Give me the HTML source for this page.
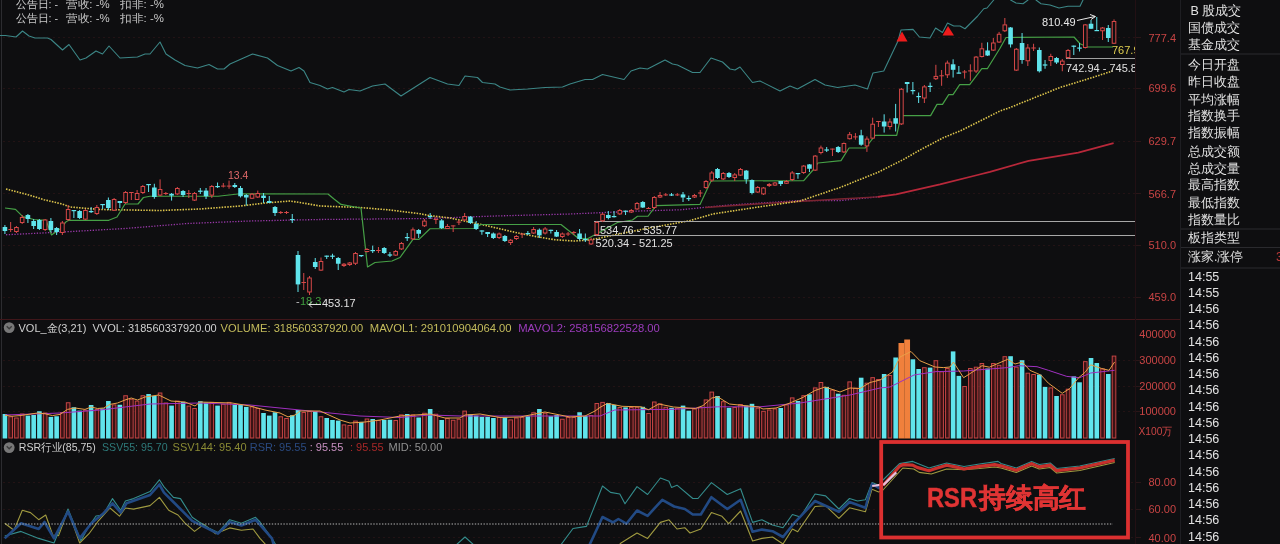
<!DOCTYPE html>
<html><head><meta charset="utf-8"><style>
html,body{margin:0;padding:0;background:#0e0e10;width:1280px;height:544px;overflow:hidden}
svg{display:block;font-family:"Liberation Sans", sans-serif;will-change:transform}
</style></head><body>
<svg width="1280" height="544" viewBox="0 0 1280 544">
<rect x="0" y="0" width="1280" height="544" fill="#0e0e10"/>
<line x1="1.5" y1="0" x2="1.5" y2="544" stroke="#2c2c30" stroke-width="1"/>
<line x1="3" y1="37.5" x2="1135" y2="37.5" stroke="#231315" stroke-width="1" stroke-dasharray="2,3"/>
<line x1="3" y1="88.5" x2="1135" y2="88.5" stroke="#231315" stroke-width="1" stroke-dasharray="2,3"/>
<line x1="3" y1="141.5" x2="1135" y2="141.5" stroke="#231315" stroke-width="1" stroke-dasharray="2,3"/>
<line x1="3" y1="193.5" x2="1135" y2="193.5" stroke="#231315" stroke-width="1" stroke-dasharray="2,3"/>
<line x1="3" y1="245.5" x2="1135" y2="245.5" stroke="#231315" stroke-width="1" stroke-dasharray="2,3"/>
<line x1="3" y1="297.5" x2="1135" y2="297.5" stroke="#231315" stroke-width="1" stroke-dasharray="2,3"/>
<line x1="3" y1="360.5" x2="1135" y2="360.5" stroke="#231315" stroke-width="1" stroke-dasharray="2,3"/>
<line x1="3" y1="386.5" x2="1135" y2="386.5" stroke="#231315" stroke-width="1" stroke-dasharray="2,3"/>
<line x1="3" y1="411.5" x2="1135" y2="411.5" stroke="#231315" stroke-width="1" stroke-dasharray="2,3"/>
<line x1="3" y1="482.5" x2="878" y2="482.5" stroke="#231315" stroke-width="1" stroke-dasharray="2,3"/>
<line x1="1131" y1="482.5" x2="1135" y2="482.5" stroke="#231315" stroke-width="1" stroke-dasharray="2,3"/>
<line x1="3" y1="509.5" x2="878" y2="509.5" stroke="#231315" stroke-width="1" stroke-dasharray="2,3"/>
<line x1="1131" y1="509.5" x2="1135" y2="509.5" stroke="#231315" stroke-width="1" stroke-dasharray="2,3"/>
<line x1="3" y1="537.5" x2="878" y2="537.5" stroke="#231315" stroke-width="1" stroke-dasharray="2,3"/>
<line x1="1131" y1="537.5" x2="1135" y2="537.5" stroke="#231315" stroke-width="1" stroke-dasharray="2,3"/>
<line x1="1136" y1="37.5" x2="1141" y2="37.5" stroke="#2a1618" stroke-width="1"/>
<line x1="1136" y1="88.5" x2="1141" y2="88.5" stroke="#2a1618" stroke-width="1"/>
<line x1="1136" y1="141.5" x2="1141" y2="141.5" stroke="#2a1618" stroke-width="1"/>
<line x1="1136" y1="193.5" x2="1141" y2="193.5" stroke="#2a1618" stroke-width="1"/>
<line x1="1136" y1="245.5" x2="1141" y2="245.5" stroke="#2a1618" stroke-width="1"/>
<line x1="1136" y1="297.5" x2="1141" y2="297.5" stroke="#2a1618" stroke-width="1"/>
<line x1="1136" y1="360.5" x2="1141" y2="360.5" stroke="#2a1618" stroke-width="1"/>
<line x1="1136" y1="386.5" x2="1141" y2="386.5" stroke="#2a1618" stroke-width="1"/>
<line x1="1136" y1="411.5" x2="1141" y2="411.5" stroke="#2a1618" stroke-width="1"/>
<line x1="1136" y1="482.5" x2="1141" y2="482.5" stroke="#2a1618" stroke-width="1"/>
<line x1="1136" y1="509.5" x2="1141" y2="509.5" stroke="#2a1618" stroke-width="1"/>
<line x1="1136" y1="537.5" x2="1141" y2="537.5" stroke="#2a1618" stroke-width="1"/>
<line x1="0" y1="319.5" x2="1180" y2="319.5" stroke="#40161a" stroke-width="1"/>
<line x1="1135.5" y1="0" x2="1135.5" y2="544" stroke="#221014" stroke-width="1"/>
<line x1="1180.5" y1="0" x2="1180.5" y2="544" stroke="#1e1e22" stroke-width="1"/>
<polyline points="0.00,35.50 5.50,35.50 16.00,37.00 22.50,31.00 29.00,36.00 35.00,38.00 47.50,38.00 51.00,39.50 62.50,50.00 69.00,44.50 80.00,60.00 86.00,58.00 96.00,51.00 102.50,54.00 109.00,46.00 120.00,58.00 137.50,57.00 145.00,54.00 150.00,54.00 160.00,42.00 166.00,54.00 175.00,60.00 185.00,65.50 197.50,68.00 209.00,64.50 217.50,69.00 224.00,69.00 230.00,64.00 252.50,54.00 267.50,58.00 277.50,65.50 291.00,71.00 299.00,67.50 304.00,71.00 310.00,82.50 320.00,85.50 327.50,89.00 332.50,87.50 344.00,92.00 349.00,89.50 360.00,91.00 372.50,86.00 385.00,84.00 401.00,96.00 430.00,77.50 447.50,84.00 459.00,85.50 465.00,76.00 477.50,77.50 482.50,82.50 495.00,84.00 500.00,87.00 510.00,90.00 527.50,89.00 545.00,87.50 562.50,87.00 570.00,84.00 585.00,79.50 592.50,79.50 602.50,74.50 624.00,79.50 631.00,71.00 640.00,68.00 647.50,69.00 665.00,60.00 672.50,64.00 677.50,65.00 692.50,72.50 700.00,72.50 711.00,58.00 722.50,62.00 730.00,69.00 735.00,70.00 740.00,67.00 752.50,82.50 760.00,81.00 780.00,91.00 790.00,86.00 797.50,89.00 815.00,79.50 825.00,85.00 837.50,87.50 855.00,85.00 867.50,89.00 873.00,73.00 883.75,71.00 898.00,41.00 901.00,30.00 913.00,29.40 919.40,37.00 930.00,38.00 935.60,28.00 942.50,32.50 947.50,23.00 953.75,26.00 960.00,26.00 965.00,28.75 977.50,16.25 983.75,8.75 987.00,8.00 993.75,0.00 998.00,-5.00" fill="none" stroke="#3c8686" stroke-width="1.1" stroke-linejoin="round" />
<polyline points="1007.00,-4.00 1010.60,0.00 1016.00,3.00 1023.00,3.75 1028.00,0.00 1031.00,-4.00" fill="none" stroke="#3c8686" stroke-width="1.1" stroke-linejoin="round" />
<polyline points="1033.00,-4.00 1036.00,0.00 1041.00,3.75 1050.00,5.00 1059.00,8.00 1068.00,6.25 1080.00,6.25 1083.00,0.00 1086.00,-4.00" fill="none" stroke="#3c8686" stroke-width="1.1" stroke-linejoin="round" />
<polygon points="902,31.5 896.5,41.5 907.5,41.5" fill="#ee1c1c"/>
<polygon points="948,26 942.5,35.5 954,35.5" fill="#ee1c1c"/>
<polyline points="6.00,234.75 62.50,232.00 125.00,228.50 187.50,223.50 250.00,221.00 320.00,219.50 427.50,218.50 495.00,216.00 570.00,214.00 640.00,211.00 680.00,209.80 726.90,205.20 764.40,202.80 800.00,200.50 840.00,200.60 883.75,196.25" fill="none" stroke="#9838a8" stroke-width="1.3" stroke-dasharray="1.3,1.5" stroke-linejoin="round" />
<polyline points="705.00,207.50 727.00,206.00 765.00,203.50 840.00,199.00 877.50,196.90" fill="none" stroke="#7a2430" stroke-width="1.4" stroke-linejoin="round" />
<polyline points="877.50,196.90 896.00,194.40 940.00,184.40 977.50,175.00 990.00,171.90 1028.60,160.80 1056.20,156.40 1078.30,152.60 1113.60,143.20" fill="none" stroke="#b8283a" stroke-width="1.8" stroke-linejoin="round" />
<polyline points="6.00,189.00 29.00,195.00 44.00,199.70 62.00,204.00 70.00,207.00 100.00,209.50 160.00,210.50 200.00,209.00 240.00,206.00 265.00,203.00 290.00,201.00 300.00,202.50 320.00,206.00 360.00,207.50 390.00,210.00 420.00,213.75 430.00,215.60 450.00,218.00 482.50,224.75 517.50,232.90 536.00,236.60 555.00,239.75 574.00,241.00 590.00,240.00 640.00,229.75 690.00,220.60 712.80,214.00 755.00,207.50 800.00,201.00 840.00,187.50 877.50,172.50 902.50,160.00 920.00,150.00 943.75,137.50 960.00,131.00 1000.00,111.00 1010.00,107.50 1060.00,87.50 1092.50,77.50 1112.50,71.00" fill="none" stroke="#dcc44c" stroke-width="1.6" stroke-dasharray="1.5,1.3" stroke-linejoin="round" />
<polyline points="5.00,208.00 15.50,209.30 22.80,216.60 33.80,219.50 46.00,220.30 51.50,235.00 60.00,229.00 66.00,221.80 69.00,220.30 108.80,220.30 117.00,217.00 125.00,204.00 138.00,204.00 143.40,197.50 150.00,196.25 218.00,196.25 240.00,193.75 328.00,194.00 334.00,199.00 341.00,204.40 355.00,207.00 361.00,208.00 367.50,267.00 375.00,262.50 392.00,261.00 400.00,257.50 413.00,239.40 419.00,239.40 430.00,228.75 474.00,228.50 481.00,224.50 561.00,224.50 578.00,238.00 587.50,238.75 617.50,222.50 632.50,220.00 637.50,216.25 648.00,216.25 656.00,205.60 700.00,204.40 711.00,181.00 803.75,180.60 813.00,170.00 818.00,163.00 841.00,160.60 849.00,148.00 865.30,148.00 875.20,135.30 896.70,135.30 901.00,115.60 930.60,115.60 937.00,104.40 942.50,104.40 948.70,94.60 953.00,94.60 959.70,84.70 969.70,84.70 981.80,68.70 987.30,68.70 1000.00,48.30 1006.00,37.50 1074.00,37.00 1080.00,43.75 1087.50,47.00 1110.00,47.00 1113.00,47.00" fill="none" stroke="#46a046" stroke-width="1.2" stroke-linejoin="round" />
<line x1="594" y1="221.5" x2="1135" y2="221.5" stroke="#a8a8a8" stroke-width="1"/>
<line x1="594" y1="235.5" x2="1135" y2="235.5" stroke="#a8a8a8" stroke-width="1"/>
<line x1="1066" y1="58.5" x2="1135" y2="58.5" stroke="#a0a0a0" stroke-width="1"/>
<line x1="4.92" y1="225.0" x2="4.92" y2="234.0" stroke="#60e4ec" stroke-width="1"/>
<rect x="2.62" y="227.0" width="4.6" height="4.00" fill="#60e4ec"/>
<line x1="10.67" y1="222.0" x2="10.67" y2="232.0" stroke="#d64848" stroke-width="1"/>
<line x1="8.37" y1="229.5" x2="12.97" y2="229.5" stroke="#d64848" stroke-width="1"/>
<line x1="16.42" y1="226.0" x2="16.42" y2="233.0" stroke="#d64848" stroke-width="1"/>
<rect x="14.62" y="227.5" width="3.6" height="4.00" fill="#0e0e10" stroke="#d64848" stroke-width="1"/>
<line x1="22.16" y1="215.0" x2="22.16" y2="224.0" stroke="#d64848" stroke-width="1"/>
<rect x="20.36" y="217.5" width="3.6" height="5.00" fill="#0e0e10" stroke="#d64848" stroke-width="1"/>
<line x1="27.91" y1="214.0" x2="27.91" y2="223.0" stroke="#60e4ec" stroke-width="1"/>
<rect x="25.61" y="215.0" width="4.6" height="4.00" fill="#60e4ec"/>
<line x1="33.66" y1="219.0" x2="33.66" y2="229.0" stroke="#60e4ec" stroke-width="1"/>
<rect x="31.36" y="221.0" width="4.6" height="5.00" fill="#60e4ec"/>
<line x1="39.40" y1="219.0" x2="39.40" y2="230.0" stroke="#60e4ec" stroke-width="1"/>
<rect x="37.10" y="220.0" width="4.6" height="9.00" fill="#60e4ec"/>
<line x1="45.15" y1="219.0" x2="45.15" y2="231.0" stroke="#d64848" stroke-width="1"/>
<rect x="43.35" y="220.0" width="3.6" height="9.50" fill="#0e0e10" stroke="#d64848" stroke-width="1"/>
<line x1="50.90" y1="218.0" x2="50.90" y2="232.0" stroke="#60e4ec" stroke-width="1"/>
<rect x="48.60" y="221.0" width="4.6" height="9.00" fill="#60e4ec"/>
<line x1="56.64" y1="227.0" x2="56.64" y2="235.0" stroke="#60e4ec" stroke-width="1"/>
<rect x="54.34" y="228.0" width="4.6" height="4.00" fill="#60e4ec"/>
<line x1="62.39" y1="221.0" x2="62.39" y2="235.0" stroke="#d64848" stroke-width="1"/>
<rect x="60.59" y="223.0" width="3.6" height="9.50" fill="#0e0e10" stroke="#d64848" stroke-width="1"/>
<line x1="68.14" y1="205.0" x2="68.14" y2="221.0" stroke="#d64848" stroke-width="1"/>
<rect x="66.34" y="209.5" width="3.6" height="10.00" fill="#0e0e10" stroke="#d64848" stroke-width="1"/>
<line x1="73.88" y1="210.0" x2="73.88" y2="218.0" stroke="#60e4ec" stroke-width="1"/>
<rect x="71.58" y="210.0" width="4.6" height="1.20" fill="#60e4ec"/>
<line x1="79.63" y1="210.0" x2="79.63" y2="219.0" stroke="#60e4ec" stroke-width="1"/>
<rect x="77.33" y="211.0" width="4.6" height="7.00" fill="#60e4ec"/>
<line x1="85.38" y1="209.0" x2="85.38" y2="220.0" stroke="#d64848" stroke-width="1"/>
<rect x="83.58" y="210.5" width="3.6" height="8.60" fill="#0e0e10" stroke="#d64848" stroke-width="1"/>
<line x1="91.12" y1="207.0" x2="91.12" y2="213.0" stroke="#60e4ec" stroke-width="1"/>
<rect x="88.82" y="211.0" width="4.6" height="1.20" fill="#60e4ec"/>
<line x1="96.87" y1="205.0" x2="96.87" y2="215.0" stroke="#d64848" stroke-width="1"/>
<rect x="95.07" y="207.5" width="3.6" height="6.00" fill="#0e0e10" stroke="#d64848" stroke-width="1"/>
<line x1="102.62" y1="204.0" x2="102.62" y2="209.0" stroke="#60e4ec" stroke-width="1"/>
<rect x="100.32" y="204.0" width="4.6" height="1.20" fill="#60e4ec"/>
<line x1="108.36" y1="197.5" x2="108.36" y2="210.0" stroke="#60e4ec" stroke-width="1"/>
<rect x="106.06" y="200.0" width="4.6" height="8.00" fill="#60e4ec"/>
<line x1="114.11" y1="198.0" x2="114.11" y2="211.0" stroke="#d64848" stroke-width="1"/>
<rect x="112.31" y="199.5" width="3.6" height="10.70" fill="#0e0e10" stroke="#d64848" stroke-width="1"/>
<line x1="119.86" y1="201.0" x2="119.86" y2="208.0" stroke="#60e4ec" stroke-width="1"/>
<rect x="117.56" y="201.0" width="4.6" height="2.00" fill="#60e4ec"/>
<line x1="125.60" y1="191.0" x2="125.60" y2="204.0" stroke="#d64848" stroke-width="1"/>
<rect x="123.80" y="192.5" width="3.6" height="10.00" fill="#0e0e10" stroke="#d64848" stroke-width="1"/>
<line x1="131.35" y1="192.0" x2="131.35" y2="200.0" stroke="#d64848" stroke-width="1"/>
<line x1="129.05" y1="192.5" x2="133.65" y2="192.5" stroke="#d64848" stroke-width="1"/>
<line x1="137.10" y1="190.0" x2="137.10" y2="200.0" stroke="#d64848" stroke-width="1"/>
<rect x="135.30" y="193.5" width="3.6" height="6.00" fill="#0e0e10" stroke="#d64848" stroke-width="1"/>
<line x1="142.84" y1="185.0" x2="142.84" y2="194.0" stroke="#d64848" stroke-width="1"/>
<rect x="141.04" y="186.5" width="3.6" height="6.00" fill="#0e0e10" stroke="#d64848" stroke-width="1"/>
<line x1="148.59" y1="184.0" x2="148.59" y2="192.0" stroke="#60e4ec" stroke-width="1"/>
<rect x="146.29" y="184.0" width="4.6" height="1.20" fill="#60e4ec"/>
<line x1="154.34" y1="183.75" x2="154.34" y2="198.75" stroke="#60e4ec" stroke-width="1"/>
<rect x="152.04" y="187.5" width="4.6" height="9.50" fill="#60e4ec"/>
<line x1="160.08" y1="179.4" x2="160.08" y2="196.0" stroke="#d64848" stroke-width="1"/>
<rect x="158.28" y="189.5" width="3.6" height="5.60" fill="#0e0e10" stroke="#d64848" stroke-width="1"/>
<line x1="165.83" y1="192.0" x2="165.83" y2="195.0" stroke="#d64848" stroke-width="1"/>
<line x1="163.53" y1="193.5" x2="168.13" y2="193.5" stroke="#d64848" stroke-width="1"/>
<line x1="171.58" y1="193.0" x2="171.58" y2="200.6" stroke="#60e4ec" stroke-width="1"/>
<rect x="169.28" y="193.75" width="4.6" height="1.85" fill="#60e4ec"/>
<line x1="177.32" y1="187.0" x2="177.32" y2="195.0" stroke="#d64848" stroke-width="1"/>
<rect x="175.52" y="188.5" width="3.6" height="5.40" fill="#0e0e10" stroke="#d64848" stroke-width="1"/>
<line x1="183.07" y1="190.0" x2="183.07" y2="197.0" stroke="#60e4ec" stroke-width="1"/>
<rect x="180.77" y="191.0" width="4.6" height="4.00" fill="#60e4ec"/>
<line x1="188.82" y1="190.0" x2="188.82" y2="198.0" stroke="#d64848" stroke-width="1"/>
<line x1="186.52" y1="193.5" x2="191.12" y2="193.5" stroke="#d64848" stroke-width="1"/>
<line x1="194.56" y1="192.0" x2="194.56" y2="201.0" stroke="#d64848" stroke-width="1"/>
<rect x="192.76" y="193.5" width="3.6" height="6.60" fill="#0e0e10" stroke="#d64848" stroke-width="1"/>
<line x1="200.31" y1="188.0" x2="200.31" y2="194.0" stroke="#60e4ec" stroke-width="1"/>
<rect x="198.01" y="190.6" width="4.6" height="1.20" fill="#60e4ec"/>
<line x1="206.06" y1="188.0" x2="206.06" y2="199.0" stroke="#60e4ec" stroke-width="1"/>
<rect x="203.76" y="190.6" width="4.6" height="5.65" fill="#60e4ec"/>
<line x1="211.80" y1="185.0" x2="211.80" y2="198.0" stroke="#d64848" stroke-width="1"/>
<rect x="210.00" y="186.5" width="3.6" height="8.60" fill="#0e0e10" stroke="#d64848" stroke-width="1"/>
<line x1="217.55" y1="182.5" x2="217.55" y2="188.0" stroke="#60e4ec" stroke-width="1"/>
<rect x="215.25" y="186.0" width="4.6" height="1.20" fill="#60e4ec"/>
<line x1="223.30" y1="183.0" x2="223.30" y2="187.5" stroke="#d64848" stroke-width="1"/>
<line x1="221.00" y1="186.1" x2="225.60" y2="186.1" stroke="#d64848" stroke-width="1"/>
<line x1="229.04" y1="180.6" x2="229.04" y2="188.75" stroke="#d64848" stroke-width="1"/>
<line x1="226.74" y1="186.1" x2="231.34" y2="186.1" stroke="#d64848" stroke-width="1"/>
<line x1="234.79" y1="183.0" x2="234.79" y2="188.0" stroke="#60e4ec" stroke-width="1"/>
<rect x="232.49" y="185.0" width="4.6" height="2.00" fill="#60e4ec"/>
<line x1="240.54" y1="186.0" x2="240.54" y2="197.5" stroke="#60e4ec" stroke-width="1"/>
<rect x="238.24" y="188.0" width="4.6" height="8.25" fill="#60e4ec"/>
<line x1="246.28" y1="194.0" x2="246.28" y2="205.6" stroke="#60e4ec" stroke-width="1"/>
<rect x="243.98" y="195.0" width="4.6" height="2.50" fill="#60e4ec"/>
<line x1="252.03" y1="193.0" x2="252.03" y2="199.0" stroke="#d64848" stroke-width="1"/>
<rect x="250.23" y="194.25" width="3.6" height="4.00" fill="#0e0e10" stroke="#d64848" stroke-width="1"/>
<line x1="257.78" y1="190.6" x2="257.78" y2="198.0" stroke="#d64848" stroke-width="1"/>
<rect x="255.98" y="193.5" width="3.6" height="3.50" fill="#0e0e10" stroke="#d64848" stroke-width="1"/>
<line x1="263.52" y1="193.0" x2="263.52" y2="203.0" stroke="#60e4ec" stroke-width="1"/>
<rect x="261.22" y="195.6" width="4.6" height="2.40" fill="#60e4ec"/>
<line x1="269.27" y1="196.0" x2="269.27" y2="203.0" stroke="#60e4ec" stroke-width="1"/>
<rect x="266.97" y="201.0" width="4.6" height="2.00" fill="#60e4ec"/>
<line x1="275.02" y1="206.0" x2="275.02" y2="216.0" stroke="#60e4ec" stroke-width="1"/>
<rect x="272.72" y="207.0" width="4.6" height="6.00" fill="#60e4ec"/>
<line x1="280.76" y1="211.0" x2="280.76" y2="214.0" stroke="#d64848" stroke-width="1"/>
<line x1="278.46" y1="212.5" x2="283.06" y2="212.5" stroke="#d64848" stroke-width="1"/>
<line x1="286.51" y1="211.0" x2="286.51" y2="214.0" stroke="#d64848" stroke-width="1"/>
<line x1="284.21" y1="212.5" x2="288.81" y2="212.5" stroke="#d64848" stroke-width="1"/>
<line x1="292.25" y1="214.0" x2="292.25" y2="223.0" stroke="#60e4ec" stroke-width="1"/>
<rect x="289.95" y="219.0" width="4.6" height="1.20" fill="#60e4ec"/>
<line x1="298.00" y1="251.0" x2="298.00" y2="292.0" stroke="#60e4ec" stroke-width="1"/>
<rect x="295.70" y="255.0" width="4.6" height="29.40" fill="#60e4ec"/>
<line x1="303.75" y1="273.0" x2="303.75" y2="290.0" stroke="#d64848" stroke-width="1"/>
<line x1="301.45" y1="282.5" x2="306.05" y2="282.5" stroke="#d64848" stroke-width="1"/>
<line x1="309.49" y1="276.0" x2="309.49" y2="295.0" stroke="#d64848" stroke-width="1"/>
<rect x="307.69" y="278.0" width="3.6" height="14.00" fill="#0e0e10" stroke="#d64848" stroke-width="1"/>
<line x1="315.24" y1="258.0" x2="315.24" y2="269.0" stroke="#60e4ec" stroke-width="1"/>
<rect x="312.94" y="262.0" width="4.6" height="5.00" fill="#60e4ec"/>
<line x1="320.99" y1="257.5" x2="320.99" y2="271.0" stroke="#d64848" stroke-width="1"/>
<rect x="319.19" y="261.5" width="3.6" height="8.60" fill="#0e0e10" stroke="#d64848" stroke-width="1"/>
<line x1="326.73" y1="255.6" x2="326.73" y2="259.0" stroke="#60e4ec" stroke-width="1"/>
<rect x="324.43" y="255.6" width="4.6" height="1.20" fill="#60e4ec"/>
<line x1="332.48" y1="253.75" x2="332.48" y2="259.0" stroke="#60e4ec" stroke-width="1"/>
<rect x="330.18" y="255.6" width="4.6" height="1.20" fill="#60e4ec"/>
<line x1="338.23" y1="257.0" x2="338.23" y2="270.0" stroke="#60e4ec" stroke-width="1"/>
<rect x="335.93" y="258.0" width="4.6" height="5.75" fill="#60e4ec"/>
<line x1="343.97" y1="263.0" x2="343.97" y2="267.0" stroke="#d64848" stroke-width="1"/>
<rect x="342.17" y="264.25" width="3.6" height="1.25" fill="#0e0e10" stroke="#d64848" stroke-width="1"/>
<line x1="349.72" y1="262.0" x2="349.72" y2="266.0" stroke="#d64848" stroke-width="1"/>
<rect x="347.92" y="263.0" width="3.6" height="1.50" fill="#0e0e10" stroke="#d64848" stroke-width="1"/>
<line x1="355.47" y1="252.0" x2="355.47" y2="265.0" stroke="#d64848" stroke-width="1"/>
<rect x="353.67" y="253.5" width="3.6" height="9.75" fill="#0e0e10" stroke="#d64848" stroke-width="1"/>
<line x1="361.21" y1="255.0" x2="361.21" y2="257.0" stroke="#60e4ec" stroke-width="1"/>
<rect x="358.91" y="255.0" width="4.6" height="1.20" fill="#60e4ec"/>
<line x1="366.96" y1="248.0" x2="366.96" y2="252.5" stroke="#d64848" stroke-width="1"/>
<rect x="365.16" y="249.5" width="3.6" height="2.00" fill="#0e0e10" stroke="#d64848" stroke-width="1"/>
<line x1="372.71" y1="245.6" x2="372.71" y2="253.0" stroke="#60e4ec" stroke-width="1"/>
<rect x="370.41" y="250.0" width="4.6" height="1.20" fill="#60e4ec"/>
<line x1="378.45" y1="247.0" x2="378.45" y2="253.0" stroke="#d64848" stroke-width="1"/>
<line x1="376.15" y1="250.5" x2="380.75" y2="250.5" stroke="#d64848" stroke-width="1"/>
<line x1="384.20" y1="247.0" x2="384.20" y2="254.0" stroke="#60e4ec" stroke-width="1"/>
<rect x="381.90" y="248.0" width="4.6" height="5.00" fill="#60e4ec"/>
<line x1="389.95" y1="252.0" x2="389.95" y2="257.0" stroke="#60e4ec" stroke-width="1"/>
<rect x="387.65" y="254.4" width="4.6" height="1.20" fill="#60e4ec"/>
<line x1="395.69" y1="250.0" x2="395.69" y2="256.0" stroke="#d64848" stroke-width="1"/>
<rect x="393.89" y="251.5" width="3.6" height="3.60" fill="#0e0e10" stroke="#d64848" stroke-width="1"/>
<line x1="401.44" y1="242.0" x2="401.44" y2="250.0" stroke="#d64848" stroke-width="1"/>
<rect x="399.64" y="243.5" width="3.6" height="5.40" fill="#0e0e10" stroke="#d64848" stroke-width="1"/>
<line x1="407.19" y1="233.0" x2="407.19" y2="241.0" stroke="#60e4ec" stroke-width="1"/>
<rect x="404.89" y="237.0" width="4.6" height="1.20" fill="#60e4ec"/>
<line x1="412.93" y1="227.5" x2="412.93" y2="240.0" stroke="#d64848" stroke-width="1"/>
<rect x="411.13" y="229.9" width="3.6" height="9.00" fill="#0e0e10" stroke="#d64848" stroke-width="1"/>
<line x1="418.68" y1="229.0" x2="418.68" y2="238.0" stroke="#60e4ec" stroke-width="1"/>
<rect x="416.38" y="230.0" width="4.6" height="3.75" fill="#60e4ec"/>
<line x1="424.43" y1="219.0" x2="424.43" y2="227.0" stroke="#d64848" stroke-width="1"/>
<rect x="422.63" y="221.1" width="3.6" height="4.65" fill="#0e0e10" stroke="#d64848" stroke-width="1"/>
<line x1="430.17" y1="213.0" x2="430.17" y2="219.0" stroke="#60e4ec" stroke-width="1"/>
<rect x="427.87" y="216.0" width="4.6" height="1.20" fill="#60e4ec"/>
<line x1="435.92" y1="216.6" x2="435.92" y2="224.0" stroke="#d64848" stroke-width="1"/>
<line x1="433.62" y1="219.5" x2="438.22" y2="219.5" stroke="#d64848" stroke-width="1"/>
<line x1="441.67" y1="219.0" x2="441.67" y2="229.0" stroke="#60e4ec" stroke-width="1"/>
<rect x="439.37" y="220.4" width="4.6" height="7.60" fill="#60e4ec"/>
<line x1="447.41" y1="224.0" x2="447.41" y2="229.0" stroke="#d64848" stroke-width="1"/>
<rect x="445.61" y="226.5" width="3.6" height="2.00" fill="#0e0e10" stroke="#d64848" stroke-width="1"/>
<line x1="453.16" y1="225.4" x2="453.16" y2="232.0" stroke="#d64848" stroke-width="1"/>
<line x1="450.86" y1="225.9" x2="455.46" y2="225.9" stroke="#d64848" stroke-width="1"/>
<line x1="458.91" y1="220.0" x2="458.91" y2="225.0" stroke="#d64848" stroke-width="1"/>
<line x1="456.61" y1="222.1" x2="461.21" y2="222.1" stroke="#d64848" stroke-width="1"/>
<line x1="464.65" y1="213.0" x2="464.65" y2="221.0" stroke="#d64848" stroke-width="1"/>
<rect x="462.85" y="216.5" width="3.6" height="3.40" fill="#0e0e10" stroke="#d64848" stroke-width="1"/>
<line x1="470.40" y1="216.0" x2="470.40" y2="224.0" stroke="#60e4ec" stroke-width="1"/>
<rect x="468.10" y="216.6" width="4.6" height="6.40" fill="#60e4ec"/>
<line x1="476.15" y1="221.0" x2="476.15" y2="230.0" stroke="#60e4ec" stroke-width="1"/>
<rect x="473.85" y="224.0" width="4.6" height="5.00" fill="#60e4ec"/>
<line x1="481.89" y1="230.4" x2="481.89" y2="234.75" stroke="#60e4ec" stroke-width="1"/>
<rect x="479.59" y="230.4" width="4.6" height="1.20" fill="#60e4ec"/>
<line x1="487.64" y1="232.0" x2="487.64" y2="237.0" stroke="#60e4ec" stroke-width="1"/>
<rect x="485.34" y="232.0" width="4.6" height="2.00" fill="#60e4ec"/>
<line x1="493.39" y1="232.5" x2="493.39" y2="239.0" stroke="#60e4ec" stroke-width="1"/>
<rect x="491.09" y="233.5" width="4.6" height="4.50" fill="#60e4ec"/>
<line x1="499.13" y1="232.5" x2="499.13" y2="239.0" stroke="#d64848" stroke-width="1"/>
<rect x="497.33" y="234.0" width="3.6" height="3.50" fill="#0e0e10" stroke="#d64848" stroke-width="1"/>
<line x1="504.88" y1="235.0" x2="504.88" y2="242.0" stroke="#60e4ec" stroke-width="1"/>
<rect x="502.58" y="236.0" width="4.6" height="5.00" fill="#60e4ec"/>
<line x1="510.63" y1="239.0" x2="510.63" y2="245.0" stroke="#d64848" stroke-width="1"/>
<rect x="508.83" y="240.25" width="3.6" height="2.25" fill="#0e0e10" stroke="#d64848" stroke-width="1"/>
<line x1="516.37" y1="235.0" x2="516.37" y2="240.0" stroke="#d64848" stroke-width="1"/>
<rect x="514.57" y="236.5" width="3.6" height="2.00" fill="#0e0e10" stroke="#d64848" stroke-width="1"/>
<line x1="522.12" y1="233.5" x2="522.12" y2="238.0" stroke="#d64848" stroke-width="1"/>
<line x1="519.82" y1="234.0" x2="524.42" y2="234.0" stroke="#d64848" stroke-width="1"/>
<line x1="527.87" y1="231.0" x2="527.87" y2="235.0" stroke="#60e4ec" stroke-width="1"/>
<rect x="525.57" y="233.0" width="4.6" height="1.20" fill="#60e4ec"/>
<line x1="533.61" y1="227.0" x2="533.61" y2="234.0" stroke="#d64848" stroke-width="1"/>
<rect x="531.81" y="229.5" width="3.6" height="3.50" fill="#0e0e10" stroke="#d64848" stroke-width="1"/>
<line x1="539.36" y1="228.5" x2="539.36" y2="238.0" stroke="#60e4ec" stroke-width="1"/>
<rect x="537.06" y="229.75" width="4.6" height="5.65" fill="#60e4ec"/>
<line x1="545.11" y1="227.0" x2="545.11" y2="234.5" stroke="#d64848" stroke-width="1"/>
<rect x="543.31" y="229.0" width="3.6" height="4.00" fill="#0e0e10" stroke="#d64848" stroke-width="1"/>
<line x1="550.85" y1="229.75" x2="550.85" y2="233.5" stroke="#60e4ec" stroke-width="1"/>
<rect x="548.55" y="229.75" width="4.6" height="1.20" fill="#60e4ec"/>
<line x1="556.60" y1="230.0" x2="556.60" y2="237.0" stroke="#60e4ec" stroke-width="1"/>
<rect x="554.30" y="232.0" width="4.6" height="4.60" fill="#60e4ec"/>
<line x1="562.35" y1="232.5" x2="562.35" y2="238.0" stroke="#d64848" stroke-width="1"/>
<rect x="560.55" y="234.0" width="3.6" height="2.50" fill="#0e0e10" stroke="#d64848" stroke-width="1"/>
<line x1="568.09" y1="232.0" x2="568.09" y2="236.0" stroke="#d64848" stroke-width="1"/>
<line x1="565.79" y1="234.0" x2="570.39" y2="234.0" stroke="#d64848" stroke-width="1"/>
<line x1="573.84" y1="231.0" x2="573.84" y2="235.0" stroke="#d64848" stroke-width="1"/>
<line x1="571.54" y1="232.5" x2="576.14" y2="232.5" stroke="#d64848" stroke-width="1"/>
<line x1="579.58" y1="229.0" x2="579.58" y2="240.4" stroke="#60e4ec" stroke-width="1"/>
<rect x="577.28" y="233.5" width="4.6" height="5.50" fill="#60e4ec"/>
<line x1="585.33" y1="233.5" x2="585.33" y2="242.0" stroke="#60e4ec" stroke-width="1"/>
<rect x="583.03" y="239.0" width="4.6" height="1.20" fill="#60e4ec"/>
<line x1="591.08" y1="237.6" x2="591.08" y2="245.0" stroke="#d64848" stroke-width="1"/>
<rect x="589.28" y="239.9" width="3.6" height="4.00" fill="#0e0e10" stroke="#d64848" stroke-width="1"/>
<line x1="596.82" y1="221.0" x2="596.82" y2="236.0" stroke="#d64848" stroke-width="1"/>
<rect x="595.02" y="222.5" width="3.6" height="12.00" fill="#0e0e10" stroke="#d64848" stroke-width="1"/>
<line x1="602.57" y1="213.0" x2="602.57" y2="222.0" stroke="#d64848" stroke-width="1"/>
<rect x="600.77" y="214.25" width="3.6" height="6.50" fill="#0e0e10" stroke="#d64848" stroke-width="1"/>
<line x1="608.32" y1="211.0" x2="608.32" y2="219.4" stroke="#60e4ec" stroke-width="1"/>
<rect x="606.02" y="215.0" width="4.6" height="3.00" fill="#60e4ec"/>
<line x1="614.06" y1="211.0" x2="614.06" y2="217.5" stroke="#60e4ec" stroke-width="1"/>
<rect x="611.76" y="216.0" width="4.6" height="1.20" fill="#60e4ec"/>
<line x1="619.81" y1="209.0" x2="619.81" y2="215.0" stroke="#d64848" stroke-width="1"/>
<rect x="618.01" y="210.5" width="3.6" height="3.40" fill="#0e0e10" stroke="#d64848" stroke-width="1"/>
<line x1="625.56" y1="210.6" x2="625.56" y2="215.0" stroke="#60e4ec" stroke-width="1"/>
<rect x="623.26" y="210.6" width="4.6" height="1.20" fill="#60e4ec"/>
<line x1="631.30" y1="209.0" x2="631.30" y2="213.0" stroke="#d64848" stroke-width="1"/>
<rect x="629.50" y="210.5" width="3.6" height="1.50" fill="#0e0e10" stroke="#d64848" stroke-width="1"/>
<line x1="637.05" y1="202.0" x2="637.05" y2="210.0" stroke="#d64848" stroke-width="1"/>
<rect x="635.25" y="203.5" width="3.6" height="5.40" fill="#0e0e10" stroke="#d64848" stroke-width="1"/>
<line x1="642.80" y1="201.0" x2="642.80" y2="208.0" stroke="#60e4ec" stroke-width="1"/>
<rect x="640.50" y="202.0" width="4.6" height="5.50" fill="#60e4ec"/>
<line x1="648.54" y1="207.0" x2="648.54" y2="209.0" stroke="#d64848" stroke-width="1"/>
<line x1="646.24" y1="208.5" x2="650.84" y2="208.5" stroke="#d64848" stroke-width="1"/>
<line x1="654.29" y1="196.0" x2="654.29" y2="209.0" stroke="#d64848" stroke-width="1"/>
<rect x="652.49" y="197.5" width="3.6" height="10.00" fill="#0e0e10" stroke="#d64848" stroke-width="1"/>
<line x1="660.04" y1="192.0" x2="660.04" y2="198.0" stroke="#d64848" stroke-width="1"/>
<rect x="658.24" y="195.5" width="3.6" height="1.50" fill="#0e0e10" stroke="#d64848" stroke-width="1"/>
<line x1="665.78" y1="193.0" x2="665.78" y2="196.0" stroke="#d64848" stroke-width="1"/>
<line x1="663.48" y1="194.9" x2="668.08" y2="194.9" stroke="#d64848" stroke-width="1"/>
<line x1="671.53" y1="193.0" x2="671.53" y2="196.0" stroke="#60e4ec" stroke-width="1"/>
<rect x="669.23" y="194.4" width="4.6" height="1.20" fill="#60e4ec"/>
<line x1="677.28" y1="193.0" x2="677.28" y2="196.0" stroke="#d64848" stroke-width="1"/>
<line x1="674.98" y1="194.9" x2="679.58" y2="194.9" stroke="#d64848" stroke-width="1"/>
<line x1="683.02" y1="192.0" x2="683.02" y2="202.0" stroke="#60e4ec" stroke-width="1"/>
<rect x="680.72" y="194.4" width="4.6" height="3.10" fill="#60e4ec"/>
<line x1="688.77" y1="195.6" x2="688.77" y2="201.0" stroke="#60e4ec" stroke-width="1"/>
<rect x="686.47" y="198.0" width="4.6" height="1.20" fill="#60e4ec"/>
<line x1="694.52" y1="194.0" x2="694.52" y2="198.0" stroke="#d64848" stroke-width="1"/>
<rect x="692.72" y="195.5" width="3.6" height="1.50" fill="#0e0e10" stroke="#d64848" stroke-width="1"/>
<line x1="700.26" y1="190.0" x2="700.26" y2="197.0" stroke="#d64848" stroke-width="1"/>
<line x1="697.96" y1="193.0" x2="702.56" y2="193.0" stroke="#d64848" stroke-width="1"/>
<line x1="706.01" y1="180.0" x2="706.01" y2="189.0" stroke="#d64848" stroke-width="1"/>
<rect x="704.21" y="181.5" width="3.6" height="6.00" fill="#0e0e10" stroke="#d64848" stroke-width="1"/>
<line x1="711.76" y1="171.0" x2="711.76" y2="182.0" stroke="#d64848" stroke-width="1"/>
<rect x="709.96" y="173.0" width="3.6" height="7.10" fill="#0e0e10" stroke="#d64848" stroke-width="1"/>
<line x1="717.50" y1="168.0" x2="717.50" y2="179.0" stroke="#60e4ec" stroke-width="1"/>
<rect x="715.20" y="169.0" width="4.6" height="9.00" fill="#60e4ec"/>
<line x1="723.25" y1="172.0" x2="723.25" y2="180.0" stroke="#d64848" stroke-width="1"/>
<rect x="721.45" y="173.5" width="3.6" height="5.40" fill="#0e0e10" stroke="#d64848" stroke-width="1"/>
<line x1="729.00" y1="172.0" x2="729.00" y2="178.0" stroke="#60e4ec" stroke-width="1"/>
<rect x="726.70" y="173.0" width="4.6" height="4.00" fill="#60e4ec"/>
<line x1="734.74" y1="173.0" x2="734.74" y2="181.0" stroke="#d64848" stroke-width="1"/>
<rect x="732.94" y="174.9" width="3.6" height="2.60" fill="#0e0e10" stroke="#d64848" stroke-width="1"/>
<line x1="740.49" y1="168.0" x2="740.49" y2="176.0" stroke="#d64848" stroke-width="1"/>
<rect x="738.69" y="169.5" width="3.6" height="5.60" fill="#0e0e10" stroke="#d64848" stroke-width="1"/>
<line x1="746.24" y1="170.0" x2="746.24" y2="183.75" stroke="#60e4ec" stroke-width="1"/>
<rect x="743.94" y="170.6" width="4.6" height="8.80" fill="#60e4ec"/>
<line x1="751.98" y1="179.4" x2="751.98" y2="194.4" stroke="#60e4ec" stroke-width="1"/>
<rect x="749.68" y="180.0" width="4.6" height="13.00" fill="#60e4ec"/>
<line x1="757.73" y1="186.0" x2="757.73" y2="193.0" stroke="#d64848" stroke-width="1"/>
<rect x="755.93" y="187.5" width="3.6" height="4.50" fill="#0e0e10" stroke="#d64848" stroke-width="1"/>
<line x1="763.48" y1="187.0" x2="763.48" y2="195.0" stroke="#d64848" stroke-width="1"/>
<rect x="761.68" y="188.0" width="3.6" height="5.90" fill="#0e0e10" stroke="#d64848" stroke-width="1"/>
<line x1="769.22" y1="183.0" x2="769.22" y2="187.0" stroke="#d64848" stroke-width="1"/>
<rect x="767.42" y="184.5" width="3.6" height="1.00" fill="#0e0e10" stroke="#d64848" stroke-width="1"/>
<line x1="774.97" y1="182.0" x2="774.97" y2="186.0" stroke="#d64848" stroke-width="1"/>
<rect x="773.17" y="183.0" width="3.6" height="2.10" fill="#0e0e10" stroke="#d64848" stroke-width="1"/>
<line x1="780.72" y1="181.0" x2="780.72" y2="186.0" stroke="#60e4ec" stroke-width="1"/>
<rect x="778.42" y="181.0" width="4.6" height="3.00" fill="#60e4ec"/>
<line x1="786.46" y1="180.0" x2="786.46" y2="184.0" stroke="#d64848" stroke-width="1"/>
<rect x="784.66" y="181.5" width="3.6" height="1.75" fill="#0e0e10" stroke="#d64848" stroke-width="1"/>
<line x1="792.21" y1="171.0" x2="792.21" y2="181.0" stroke="#d64848" stroke-width="1"/>
<rect x="790.41" y="173.0" width="3.6" height="6.50" fill="#0e0e10" stroke="#d64848" stroke-width="1"/>
<line x1="797.96" y1="173.0" x2="797.96" y2="178.75" stroke="#60e4ec" stroke-width="1"/>
<rect x="795.66" y="173.0" width="4.6" height="1.20" fill="#60e4ec"/>
<line x1="803.70" y1="165.0" x2="803.70" y2="174.0" stroke="#d64848" stroke-width="1"/>
<rect x="801.90" y="166.1" width="3.6" height="6.40" fill="#0e0e10" stroke="#d64848" stroke-width="1"/>
<line x1="809.45" y1="164.0" x2="809.45" y2="172.0" stroke="#60e4ec" stroke-width="1"/>
<rect x="807.15" y="164.4" width="4.6" height="4.35" fill="#60e4ec"/>
<line x1="815.20" y1="155.0" x2="815.20" y2="171.0" stroke="#d64848" stroke-width="1"/>
<rect x="813.40" y="156.1" width="3.6" height="14.00" fill="#0e0e10" stroke="#d64848" stroke-width="1"/>
<line x1="820.94" y1="145.6" x2="820.94" y2="154.4" stroke="#d64848" stroke-width="1"/>
<rect x="819.14" y="148.0" width="3.6" height="4.50" fill="#0e0e10" stroke="#d64848" stroke-width="1"/>
<line x1="826.69" y1="147.0" x2="826.69" y2="152.0" stroke="#60e4ec" stroke-width="1"/>
<rect x="824.39" y="149.4" width="4.6" height="1.20" fill="#60e4ec"/>
<line x1="832.44" y1="148.6" x2="832.44" y2="156.0" stroke="#d64848" stroke-width="1"/>
<line x1="830.14" y1="149.1" x2="834.74" y2="149.1" stroke="#d64848" stroke-width="1"/>
<line x1="838.18" y1="146.0" x2="838.18" y2="153.0" stroke="#60e4ec" stroke-width="1"/>
<rect x="835.88" y="147.0" width="4.6" height="5.00" fill="#60e4ec"/>
<line x1="843.93" y1="142.5" x2="843.93" y2="153.0" stroke="#d64848" stroke-width="1"/>
<rect x="842.13" y="143.5" width="3.6" height="8.40" fill="#0e0e10" stroke="#d64848" stroke-width="1"/>
<line x1="849.68" y1="132.0" x2="849.68" y2="139.5" stroke="#d64848" stroke-width="1"/>
<rect x="847.88" y="134.7" width="3.6" height="4.00" fill="#0e0e10" stroke="#d64848" stroke-width="1"/>
<line x1="855.42" y1="133.1" x2="855.42" y2="139.7" stroke="#d64848" stroke-width="1"/>
<line x1="853.12" y1="136.9" x2="857.72" y2="136.9" stroke="#d64848" stroke-width="1"/>
<line x1="861.17" y1="129.8" x2="861.17" y2="145.8" stroke="#60e4ec" stroke-width="1"/>
<rect x="858.87" y="135.3" width="4.6" height="9.40" fill="#60e4ec"/>
<line x1="866.91" y1="136.4" x2="866.91" y2="151.9" stroke="#d64848" stroke-width="1"/>
<rect x="865.12" y="139.1" width="3.6" height="6.80" fill="#0e0e10" stroke="#d64848" stroke-width="1"/>
<line x1="872.66" y1="117.7" x2="872.66" y2="139.0" stroke="#d64848" stroke-width="1"/>
<rect x="870.86" y="124.2" width="3.6" height="13.90" fill="#0e0e10" stroke="#d64848" stroke-width="1"/>
<line x1="878.41" y1="121.0" x2="878.41" y2="127.0" stroke="#d64848" stroke-width="1"/>
<line x1="876.11" y1="121.5" x2="880.71" y2="121.5" stroke="#d64848" stroke-width="1"/>
<line x1="884.15" y1="114.3" x2="884.15" y2="132.6" stroke="#60e4ec" stroke-width="1"/>
<rect x="881.85" y="121.5" width="4.6" height="5.00" fill="#60e4ec"/>
<line x1="889.90" y1="118.5" x2="889.90" y2="129.5" stroke="#d64848" stroke-width="1"/>
<rect x="888.10" y="122.0" width="3.6" height="4.50" fill="#0e0e10" stroke="#d64848" stroke-width="1"/>
<line x1="895.65" y1="103.9" x2="895.65" y2="131.5" stroke="#60e4ec" stroke-width="1"/>
<rect x="893.35" y="118.2" width="4.6" height="5.50" fill="#60e4ec"/>
<line x1="901.39" y1="88.0" x2="901.39" y2="125.0" stroke="#d64848" stroke-width="1"/>
<rect x="899.59" y="89.25" width="3.6" height="34.65" fill="#0e0e10" stroke="#d64848" stroke-width="1"/>
<line x1="907.14" y1="82.0" x2="907.14" y2="92.5" stroke="#60e4ec" stroke-width="1"/>
<rect x="904.84" y="82.0" width="4.6" height="2.00" fill="#60e4ec"/>
<line x1="912.89" y1="82.0" x2="912.89" y2="94.4" stroke="#60e4ec" stroke-width="1"/>
<rect x="910.59" y="90.0" width="4.6" height="1.20" fill="#60e4ec"/>
<line x1="918.63" y1="92.5" x2="918.63" y2="103.0" stroke="#60e4ec" stroke-width="1"/>
<rect x="916.33" y="96.0" width="4.6" height="1.20" fill="#60e4ec"/>
<line x1="924.38" y1="85.0" x2="924.38" y2="103.0" stroke="#d64848" stroke-width="1"/>
<rect x="922.58" y="86.9" width="3.6" height="11.10" fill="#0e0e10" stroke="#d64848" stroke-width="1"/>
<line x1="930.13" y1="82.5" x2="930.13" y2="92.0" stroke="#60e4ec" stroke-width="1"/>
<rect x="927.83" y="85.8" width="4.6" height="1.20" fill="#60e4ec"/>
<line x1="935.87" y1="64.8" x2="935.87" y2="80.0" stroke="#d64848" stroke-width="1"/>
<rect x="934.07" y="76.4" width="3.6" height="2.30" fill="#0e0e10" stroke="#d64848" stroke-width="1"/>
<line x1="941.62" y1="70.0" x2="941.62" y2="85.8" stroke="#d64848" stroke-width="1"/>
<line x1="939.32" y1="75.8" x2="943.92" y2="75.8" stroke="#d64848" stroke-width="1"/>
<line x1="947.37" y1="60.6" x2="947.37" y2="78.0" stroke="#d64848" stroke-width="1"/>
<rect x="945.57" y="63.1" width="3.6" height="11.70" fill="#0e0e10" stroke="#d64848" stroke-width="1"/>
<line x1="953.11" y1="59.3" x2="953.11" y2="77.5" stroke="#60e4ec" stroke-width="1"/>
<rect x="950.81" y="64.3" width="4.6" height="5.50" fill="#60e4ec"/>
<line x1="958.86" y1="66.0" x2="958.86" y2="73.5" stroke="#60e4ec" stroke-width="1"/>
<rect x="956.56" y="72.5" width="4.6" height="1.20" fill="#60e4ec"/>
<line x1="964.61" y1="70.0" x2="964.61" y2="78.6" stroke="#d64848" stroke-width="1"/>
<line x1="962.31" y1="72.0" x2="966.91" y2="72.0" stroke="#d64848" stroke-width="1"/>
<line x1="970.35" y1="64.3" x2="970.35" y2="80.8" stroke="#d64848" stroke-width="1"/>
<line x1="968.05" y1="70.9" x2="972.65" y2="70.9" stroke="#d64848" stroke-width="1"/>
<line x1="976.10" y1="56.0" x2="976.10" y2="73.0" stroke="#d64848" stroke-width="1"/>
<rect x="974.30" y="57.1" width="3.6" height="13.90" fill="#0e0e10" stroke="#d64848" stroke-width="1"/>
<line x1="981.85" y1="42.8" x2="981.85" y2="57.5" stroke="#d64848" stroke-width="1"/>
<rect x="980.05" y="48.8" width="3.6" height="7.70" fill="#0e0e10" stroke="#d64848" stroke-width="1"/>
<line x1="987.59" y1="42.3" x2="987.59" y2="56.0" stroke="#60e4ec" stroke-width="1"/>
<rect x="985.29" y="50.5" width="4.6" height="5.00" fill="#60e4ec"/>
<line x1="993.34" y1="38.0" x2="993.34" y2="51.0" stroke="#d64848" stroke-width="1"/>
<rect x="991.54" y="43.0" width="3.6" height="7.10" fill="#0e0e10" stroke="#d64848" stroke-width="1"/>
<line x1="999.09" y1="31.9" x2="999.09" y2="43.0" stroke="#d64848" stroke-width="1"/>
<rect x="997.29" y="34.25" width="3.6" height="7.75" fill="#0e0e10" stroke="#d64848" stroke-width="1"/>
<line x1="1004.83" y1="18.0" x2="1004.83" y2="32.0" stroke="#d64848" stroke-width="1"/>
<rect x="1003.03" y="24.9" width="3.6" height="5.85" fill="#0e0e10" stroke="#d64848" stroke-width="1"/>
<line x1="1010.58" y1="27.0" x2="1010.58" y2="47.5" stroke="#60e4ec" stroke-width="1"/>
<rect x="1008.28" y="27.5" width="4.6" height="16.90" fill="#60e4ec"/>
<line x1="1016.33" y1="48.0" x2="1016.33" y2="71.0" stroke="#d64848" stroke-width="1"/>
<rect x="1014.53" y="49.25" width="3.6" height="20.85" fill="#0e0e10" stroke="#d64848" stroke-width="1"/>
<line x1="1022.07" y1="33.0" x2="1022.07" y2="63.75" stroke="#60e4ec" stroke-width="1"/>
<rect x="1019.77" y="43.0" width="4.6" height="17.00" fill="#60e4ec"/>
<line x1="1027.82" y1="44.0" x2="1027.82" y2="66.0" stroke="#d64848" stroke-width="1"/>
<rect x="1026.02" y="48.0" width="3.6" height="12.75" fill="#0e0e10" stroke="#d64848" stroke-width="1"/>
<line x1="1033.57" y1="43.75" x2="1033.57" y2="51.0" stroke="#d64848" stroke-width="1"/>
<line x1="1031.27" y1="48.0" x2="1035.87" y2="48.0" stroke="#d64848" stroke-width="1"/>
<line x1="1039.31" y1="47.5" x2="1039.31" y2="72.5" stroke="#60e4ec" stroke-width="1"/>
<rect x="1037.01" y="50.0" width="4.6" height="21.25" fill="#60e4ec"/>
<line x1="1045.06" y1="60.0" x2="1045.06" y2="68.75" stroke="#60e4ec" stroke-width="1"/>
<rect x="1042.76" y="64.4" width="4.6" height="1.20" fill="#60e4ec"/>
<line x1="1050.81" y1="53.75" x2="1050.81" y2="66.0" stroke="#d64848" stroke-width="1"/>
<rect x="1049.01" y="56.5" width="3.6" height="4.00" fill="#0e0e10" stroke="#d64848" stroke-width="1"/>
<line x1="1056.55" y1="57.0" x2="1056.55" y2="64.0" stroke="#60e4ec" stroke-width="1"/>
<rect x="1054.25" y="58.0" width="4.6" height="4.50" fill="#60e4ec"/>
<line x1="1062.30" y1="59.0" x2="1062.30" y2="71.25" stroke="#d64848" stroke-width="1"/>
<rect x="1060.50" y="61.1" width="3.6" height="3.40" fill="#0e0e10" stroke="#d64848" stroke-width="1"/>
<line x1="1068.05" y1="49.0" x2="1068.05" y2="59.0" stroke="#d64848" stroke-width="1"/>
<rect x="1066.25" y="50.5" width="3.6" height="7.00" fill="#0e0e10" stroke="#d64848" stroke-width="1"/>
<line x1="1073.79" y1="45.6" x2="1073.79" y2="55.0" stroke="#60e4ec" stroke-width="1"/>
<rect x="1071.49" y="45.6" width="4.6" height="1.20" fill="#60e4ec"/>
<line x1="1079.54" y1="43.0" x2="1079.54" y2="51.5" stroke="#60e4ec" stroke-width="1"/>
<rect x="1077.24" y="47.5" width="4.6" height="1.20" fill="#60e4ec"/>
<line x1="1085.29" y1="24.0" x2="1085.29" y2="48.5" stroke="#d64848" stroke-width="1"/>
<rect x="1083.49" y="24.9" width="3.6" height="22.60" fill="#0e0e10" stroke="#d64848" stroke-width="1"/>
<line x1="1091.03" y1="20.0" x2="1091.03" y2="29.0" stroke="#60e4ec" stroke-width="1"/>
<rect x="1088.73" y="23.75" width="4.6" height="5.00" fill="#60e4ec"/>
<line x1="1096.78" y1="17.0" x2="1096.78" y2="31.0" stroke="#60e4ec" stroke-width="1"/>
<rect x="1094.48" y="30.0" width="4.6" height="1.20" fill="#60e4ec"/>
<line x1="1102.53" y1="27.0" x2="1102.53" y2="40.0" stroke="#d64848" stroke-width="1"/>
<rect x="1100.73" y="28.0" width="3.6" height="2.75" fill="#0e0e10" stroke="#d64848" stroke-width="1"/>
<line x1="1108.27" y1="25.0" x2="1108.27" y2="42.0" stroke="#60e4ec" stroke-width="1"/>
<rect x="1105.97" y="28.0" width="4.6" height="10.00" fill="#60e4ec"/>
<line x1="1114.02" y1="19.4" x2="1114.02" y2="44.0" stroke="#d64848" stroke-width="1"/>
<rect x="1112.22" y="21.5" width="3.6" height="21.75" fill="#0e0e10" stroke="#d64848" stroke-width="1"/>
<rect x="2.62" y="414.0" width="4.6" height="24.50" fill="#60e4ec"/>
<rect x="8.87" y="416.75" width="3.6" height="21.25" fill="#3a1214" stroke="#c44444" stroke-width="1"/>
<rect x="14.62" y="418.0" width="3.6" height="20.00" fill="#3a1214" stroke="#c44444" stroke-width="1"/>
<rect x="20.36" y="414.0" width="3.6" height="24.00" fill="#3a1214" stroke="#c44444" stroke-width="1"/>
<rect x="25.61" y="415.6" width="4.6" height="22.90" fill="#60e4ec"/>
<rect x="31.36" y="415.0" width="4.6" height="23.50" fill="#60e4ec"/>
<rect x="37.10" y="411.25" width="4.6" height="27.25" fill="#60e4ec"/>
<rect x="43.35" y="413.0" width="3.6" height="25.00" fill="#3a1214" stroke="#c44444" stroke-width="1"/>
<rect x="48.60" y="416.9" width="4.6" height="21.60" fill="#60e4ec"/>
<rect x="54.34" y="416.25" width="4.6" height="22.25" fill="#60e4ec"/>
<rect x="60.59" y="412.5" width="3.6" height="25.50" fill="#3a1214" stroke="#c44444" stroke-width="1"/>
<rect x="66.34" y="402.75" width="3.6" height="35.25" fill="#3a1214" stroke="#c44444" stroke-width="1"/>
<rect x="71.58" y="407.25" width="4.6" height="31.25" fill="#60e4ec"/>
<rect x="77.33" y="410.6" width="4.6" height="27.90" fill="#60e4ec"/>
<rect x="83.58" y="410.25" width="3.6" height="27.75" fill="#3a1214" stroke="#c44444" stroke-width="1"/>
<rect x="88.82" y="405.0" width="4.6" height="33.50" fill="#60e4ec"/>
<rect x="95.07" y="409.5" width="3.6" height="28.50" fill="#3a1214" stroke="#c44444" stroke-width="1"/>
<rect x="100.32" y="408.5" width="4.6" height="30.00" fill="#60e4ec"/>
<rect x="106.06" y="401.0" width="4.6" height="37.50" fill="#60e4ec"/>
<rect x="112.31" y="404.9" width="3.6" height="33.10" fill="#3a1214" stroke="#c44444" stroke-width="1"/>
<rect x="117.56" y="404.75" width="4.6" height="33.75" fill="#60e4ec"/>
<rect x="123.80" y="395.75" width="3.6" height="42.25" fill="#3a1214" stroke="#c44444" stroke-width="1"/>
<rect x="129.55" y="399.25" width="3.6" height="38.75" fill="#3a1214" stroke="#c44444" stroke-width="1"/>
<rect x="135.30" y="401.1" width="3.6" height="36.90" fill="#3a1214" stroke="#c44444" stroke-width="1"/>
<rect x="141.04" y="395.75" width="3.6" height="42.25" fill="#3a1214" stroke="#c44444" stroke-width="1"/>
<rect x="146.29" y="394.0" width="4.6" height="44.50" fill="#60e4ec"/>
<rect x="152.04" y="396.0" width="4.6" height="42.50" fill="#60e4ec"/>
<rect x="158.28" y="393.0" width="3.6" height="45.00" fill="#3a1214" stroke="#c44444" stroke-width="1"/>
<rect x="164.03" y="403.0" width="3.6" height="35.00" fill="#3a1214" stroke="#c44444" stroke-width="1"/>
<rect x="169.28" y="405.6" width="4.6" height="32.90" fill="#60e4ec"/>
<rect x="175.52" y="401.1" width="3.6" height="36.90" fill="#3a1214" stroke="#c44444" stroke-width="1"/>
<rect x="180.77" y="401.9" width="4.6" height="36.60" fill="#60e4ec"/>
<rect x="187.02" y="406.1" width="3.6" height="31.90" fill="#3a1214" stroke="#c44444" stroke-width="1"/>
<rect x="192.76" y="408.5" width="3.6" height="29.50" fill="#3a1214" stroke="#c44444" stroke-width="1"/>
<rect x="198.01" y="401.25" width="4.6" height="37.25" fill="#60e4ec"/>
<rect x="203.76" y="402.5" width="4.6" height="36.00" fill="#60e4ec"/>
<rect x="210.00" y="402.4" width="3.6" height="35.60" fill="#3a1214" stroke="#c44444" stroke-width="1"/>
<rect x="215.25" y="405.6" width="4.6" height="32.90" fill="#60e4ec"/>
<rect x="221.50" y="404.25" width="3.6" height="33.75" fill="#3a1214" stroke="#c44444" stroke-width="1"/>
<rect x="227.24" y="402.4" width="3.6" height="35.60" fill="#3a1214" stroke="#c44444" stroke-width="1"/>
<rect x="232.49" y="404.4" width="4.6" height="34.10" fill="#60e4ec"/>
<rect x="238.24" y="405.0" width="4.6" height="33.50" fill="#60e4ec"/>
<rect x="243.98" y="406.9" width="4.6" height="31.60" fill="#60e4ec"/>
<rect x="250.23" y="406.75" width="3.6" height="31.25" fill="#3a1214" stroke="#c44444" stroke-width="1"/>
<rect x="255.98" y="408.5" width="3.6" height="29.50" fill="#3a1214" stroke="#c44444" stroke-width="1"/>
<rect x="261.22" y="413.0" width="4.6" height="25.50" fill="#60e4ec"/>
<rect x="266.97" y="415.6" width="4.6" height="22.90" fill="#60e4ec"/>
<rect x="272.72" y="412.25" width="4.6" height="26.25" fill="#60e4ec"/>
<rect x="278.96" y="416.75" width="3.6" height="21.25" fill="#3a1214" stroke="#c44444" stroke-width="1"/>
<rect x="284.71" y="418.5" width="3.6" height="19.50" fill="#3a1214" stroke="#c44444" stroke-width="1"/>
<rect x="289.95" y="415.25" width="4.6" height="23.25" fill="#60e4ec"/>
<rect x="295.70" y="410.0" width="4.6" height="28.50" fill="#60e4ec"/>
<rect x="301.95" y="412.5" width="3.6" height="25.50" fill="#3a1214" stroke="#c44444" stroke-width="1"/>
<rect x="307.69" y="411.5" width="3.6" height="26.50" fill="#3a1214" stroke="#c44444" stroke-width="1"/>
<rect x="312.94" y="411.0" width="4.6" height="27.50" fill="#60e4ec"/>
<rect x="319.19" y="416.75" width="3.6" height="21.25" fill="#3a1214" stroke="#c44444" stroke-width="1"/>
<rect x="324.43" y="418.0" width="4.6" height="20.50" fill="#60e4ec"/>
<rect x="330.18" y="420.0" width="4.6" height="18.50" fill="#60e4ec"/>
<rect x="335.93" y="420.6" width="4.6" height="17.90" fill="#60e4ec"/>
<rect x="342.17" y="424.9" width="3.6" height="13.10" fill="#3a1214" stroke="#c44444" stroke-width="1"/>
<rect x="347.92" y="425.5" width="3.6" height="12.50" fill="#3a1214" stroke="#c44444" stroke-width="1"/>
<rect x="353.67" y="421.1" width="3.6" height="16.90" fill="#3a1214" stroke="#c44444" stroke-width="1"/>
<rect x="358.91" y="421.9" width="4.6" height="16.60" fill="#60e4ec"/>
<rect x="365.16" y="419.0" width="3.6" height="19.00" fill="#3a1214" stroke="#c44444" stroke-width="1"/>
<rect x="370.41" y="419.0" width="4.6" height="19.50" fill="#60e4ec"/>
<rect x="376.65" y="420.5" width="3.6" height="17.50" fill="#3a1214" stroke="#c44444" stroke-width="1"/>
<rect x="381.90" y="420.0" width="4.6" height="18.50" fill="#60e4ec"/>
<rect x="387.65" y="419.75" width="4.6" height="18.75" fill="#60e4ec"/>
<rect x="393.89" y="420.5" width="3.6" height="17.50" fill="#3a1214" stroke="#c44444" stroke-width="1"/>
<rect x="399.64" y="414.9" width="3.6" height="23.10" fill="#3a1214" stroke="#c44444" stroke-width="1"/>
<rect x="404.89" y="414.0" width="4.6" height="24.50" fill="#60e4ec"/>
<rect x="411.13" y="414.9" width="3.6" height="23.10" fill="#3a1214" stroke="#c44444" stroke-width="1"/>
<rect x="416.38" y="417.5" width="4.6" height="21.00" fill="#60e4ec"/>
<rect x="422.63" y="413.25" width="3.6" height="24.75" fill="#3a1214" stroke="#c44444" stroke-width="1"/>
<rect x="427.87" y="409.0" width="4.6" height="29.50" fill="#60e4ec"/>
<rect x="434.12" y="414.25" width="3.6" height="23.75" fill="#3a1214" stroke="#c44444" stroke-width="1"/>
<rect x="439.37" y="420.0" width="4.6" height="18.50" fill="#60e4ec"/>
<rect x="445.61" y="418.5" width="3.6" height="19.50" fill="#3a1214" stroke="#c44444" stroke-width="1"/>
<rect x="451.36" y="420.25" width="3.6" height="17.75" fill="#3a1214" stroke="#c44444" stroke-width="1"/>
<rect x="457.11" y="419.25" width="3.6" height="18.75" fill="#3a1214" stroke="#c44444" stroke-width="1"/>
<rect x="462.85" y="411.1" width="3.6" height="26.90" fill="#3a1214" stroke="#c44444" stroke-width="1"/>
<rect x="468.10" y="414.4" width="4.6" height="24.10" fill="#60e4ec"/>
<rect x="473.85" y="415.6" width="4.6" height="22.90" fill="#60e4ec"/>
<rect x="479.59" y="416.9" width="4.6" height="21.60" fill="#60e4ec"/>
<rect x="485.34" y="416.9" width="4.6" height="21.60" fill="#60e4ec"/>
<rect x="491.09" y="418.0" width="4.6" height="20.50" fill="#60e4ec"/>
<rect x="497.33" y="417.4" width="3.6" height="20.60" fill="#3a1214" stroke="#c44444" stroke-width="1"/>
<rect x="502.58" y="417.25" width="4.6" height="21.25" fill="#60e4ec"/>
<rect x="508.83" y="419.9" width="3.6" height="18.10" fill="#3a1214" stroke="#c44444" stroke-width="1"/>
<rect x="514.57" y="418.0" width="3.6" height="20.00" fill="#3a1214" stroke="#c44444" stroke-width="1"/>
<rect x="520.32" y="417.4" width="3.6" height="20.60" fill="#3a1214" stroke="#c44444" stroke-width="1"/>
<rect x="525.57" y="416.25" width="4.6" height="22.25" fill="#60e4ec"/>
<rect x="531.81" y="412.75" width="3.6" height="25.25" fill="#3a1214" stroke="#c44444" stroke-width="1"/>
<rect x="537.06" y="409.0" width="4.6" height="29.50" fill="#60e4ec"/>
<rect x="543.31" y="413.25" width="3.6" height="24.75" fill="#3a1214" stroke="#c44444" stroke-width="1"/>
<rect x="548.55" y="416.25" width="4.6" height="22.25" fill="#60e4ec"/>
<rect x="554.30" y="415.0" width="4.6" height="23.50" fill="#60e4ec"/>
<rect x="560.55" y="419.25" width="3.6" height="18.75" fill="#3a1214" stroke="#c44444" stroke-width="1"/>
<rect x="566.29" y="417.5" width="3.6" height="20.50" fill="#3a1214" stroke="#c44444" stroke-width="1"/>
<rect x="572.04" y="417.5" width="3.6" height="20.50" fill="#3a1214" stroke="#c44444" stroke-width="1"/>
<rect x="577.28" y="412.25" width="4.6" height="26.25" fill="#60e4ec"/>
<rect x="583.03" y="416.0" width="4.6" height="22.50" fill="#60e4ec"/>
<rect x="589.28" y="415.5" width="3.6" height="22.50" fill="#3a1214" stroke="#c44444" stroke-width="1"/>
<rect x="595.02" y="403.5" width="3.6" height="34.50" fill="#3a1214" stroke="#c44444" stroke-width="1"/>
<rect x="600.77" y="402.4" width="3.6" height="35.60" fill="#3a1214" stroke="#c44444" stroke-width="1"/>
<rect x="606.02" y="403.0" width="4.6" height="35.50" fill="#60e4ec"/>
<rect x="611.76" y="404.9" width="4.6" height="33.60" fill="#60e4ec"/>
<rect x="618.01" y="407.5" width="3.6" height="30.50" fill="#3a1214" stroke="#c44444" stroke-width="1"/>
<rect x="623.26" y="407.35" width="4.6" height="31.15" fill="#60e4ec"/>
<rect x="629.50" y="407.5" width="3.6" height="30.50" fill="#3a1214" stroke="#c44444" stroke-width="1"/>
<rect x="635.25" y="407.3" width="3.6" height="30.70" fill="#3a1214" stroke="#c44444" stroke-width="1"/>
<rect x="640.50" y="406.8" width="4.6" height="31.70" fill="#60e4ec"/>
<rect x="646.74" y="413.5" width="3.6" height="24.50" fill="#3a1214" stroke="#c44444" stroke-width="1"/>
<rect x="652.49" y="402.0" width="3.6" height="36.00" fill="#3a1214" stroke="#c44444" stroke-width="1"/>
<rect x="658.24" y="403.9" width="3.6" height="34.10" fill="#3a1214" stroke="#c44444" stroke-width="1"/>
<rect x="663.98" y="407.3" width="3.6" height="30.70" fill="#3a1214" stroke="#c44444" stroke-width="1"/>
<rect x="669.23" y="407.8" width="4.6" height="30.70" fill="#60e4ec"/>
<rect x="675.48" y="408.3" width="3.6" height="29.70" fill="#3a1214" stroke="#c44444" stroke-width="1"/>
<rect x="680.72" y="405.6" width="4.6" height="32.90" fill="#60e4ec"/>
<rect x="686.47" y="410.7" width="4.6" height="27.80" fill="#60e4ec"/>
<rect x="692.72" y="409.0" width="3.6" height="29.00" fill="#3a1214" stroke="#c44444" stroke-width="1"/>
<rect x="698.46" y="407.3" width="3.6" height="30.70" fill="#3a1214" stroke="#c44444" stroke-width="1"/>
<rect x="704.21" y="399.9" width="3.6" height="38.10" fill="#3a1214" stroke="#c44444" stroke-width="1"/>
<rect x="709.96" y="392.1" width="3.6" height="45.90" fill="#3a1214" stroke="#c44444" stroke-width="1"/>
<rect x="715.20" y="396.0" width="4.6" height="42.50" fill="#60e4ec"/>
<rect x="721.45" y="401.7" width="3.6" height="36.30" fill="#3a1214" stroke="#c44444" stroke-width="1"/>
<rect x="726.70" y="407.8" width="4.6" height="30.70" fill="#60e4ec"/>
<rect x="732.94" y="407.5" width="3.6" height="30.50" fill="#3a1214" stroke="#c44444" stroke-width="1"/>
<rect x="738.69" y="404.5" width="3.6" height="33.50" fill="#3a1214" stroke="#c44444" stroke-width="1"/>
<rect x="743.94" y="405.6" width="4.6" height="32.90" fill="#60e4ec"/>
<rect x="749.68" y="403.8" width="4.6" height="34.70" fill="#60e4ec"/>
<rect x="755.93" y="408.2" width="3.6" height="29.80" fill="#3a1214" stroke="#c44444" stroke-width="1"/>
<rect x="761.68" y="411.3" width="3.6" height="26.70" fill="#3a1214" stroke="#c44444" stroke-width="1"/>
<rect x="767.42" y="410.0" width="3.6" height="28.00" fill="#3a1214" stroke="#c44444" stroke-width="1"/>
<rect x="773.17" y="408.9" width="3.6" height="29.10" fill="#3a1214" stroke="#c44444" stroke-width="1"/>
<rect x="778.42" y="408.0" width="4.6" height="30.50" fill="#60e4ec"/>
<rect x="784.66" y="404.9" width="3.6" height="33.10" fill="#3a1214" stroke="#c44444" stroke-width="1"/>
<rect x="790.41" y="397.9" width="3.6" height="40.10" fill="#3a1214" stroke="#c44444" stroke-width="1"/>
<rect x="795.66" y="401.0" width="4.6" height="37.50" fill="#60e4ec"/>
<rect x="801.90" y="395.7" width="3.6" height="42.30" fill="#3a1214" stroke="#c44444" stroke-width="1"/>
<rect x="807.15" y="394.25" width="4.6" height="44.25" fill="#60e4ec"/>
<rect x="813.40" y="387.9" width="3.6" height="50.10" fill="#3a1214" stroke="#c44444" stroke-width="1"/>
<rect x="819.14" y="382.5" width="3.6" height="55.50" fill="#3a1214" stroke="#c44444" stroke-width="1"/>
<rect x="824.39" y="386.9" width="4.6" height="51.60" fill="#60e4ec"/>
<rect x="830.64" y="390.15" width="3.6" height="47.85" fill="#3a1214" stroke="#c44444" stroke-width="1"/>
<rect x="835.88" y="393.7" width="4.6" height="44.80" fill="#60e4ec"/>
<rect x="842.13" y="395.3" width="3.6" height="42.70" fill="#3a1214" stroke="#c44444" stroke-width="1"/>
<rect x="847.88" y="381.9" width="3.6" height="56.10" fill="#3a1214" stroke="#c44444" stroke-width="1"/>
<rect x="853.62" y="388.3" width="3.6" height="49.70" fill="#3a1214" stroke="#c44444" stroke-width="1"/>
<rect x="858.87" y="377.7" width="4.6" height="60.80" fill="#60e4ec"/>
<rect x="865.12" y="383.2" width="3.6" height="54.80" fill="#3a1214" stroke="#c44444" stroke-width="1"/>
<rect x="870.86" y="377.65" width="3.6" height="60.35" fill="#3a1214" stroke="#c44444" stroke-width="1"/>
<rect x="876.61" y="379.5" width="3.6" height="58.50" fill="#3a1214" stroke="#c44444" stroke-width="1"/>
<rect x="881.85" y="374.0" width="4.6" height="64.50" fill="#60e4ec"/>
<rect x="888.10" y="375.5" width="3.6" height="62.50" fill="#3a1214" stroke="#c44444" stroke-width="1"/>
<rect x="893.35" y="357.5" width="4.6" height="81.00" fill="#60e4ec"/>
<rect x="898.49" y="343.0" width="5.8" height="95.50" fill="#f0803c"/>
<rect x="904.24" y="339.5" width="5.8" height="99.00" fill="#f0803c"/>
<rect x="910.59" y="359.3" width="4.6" height="79.20" fill="#60e4ec"/>
<rect x="916.33" y="369.0" width="4.6" height="69.50" fill="#60e4ec"/>
<rect x="922.58" y="367.7" width="3.6" height="70.30" fill="#3a1214" stroke="#c44444" stroke-width="1"/>
<rect x="927.83" y="367.6" width="4.6" height="70.90" fill="#60e4ec"/>
<rect x="934.07" y="360.7" width="3.6" height="77.30" fill="#3a1214" stroke="#c44444" stroke-width="1"/>
<rect x="939.82" y="371.8" width="3.6" height="66.20" fill="#3a1214" stroke="#c44444" stroke-width="1"/>
<rect x="945.57" y="368.5" width="3.6" height="69.50" fill="#3a1214" stroke="#c44444" stroke-width="1"/>
<rect x="950.81" y="351.4" width="4.6" height="87.10" fill="#60e4ec"/>
<rect x="956.56" y="375.9" width="4.6" height="62.60" fill="#60e4ec"/>
<rect x="962.81" y="386.5" width="3.6" height="51.50" fill="#3a1214" stroke="#c44444" stroke-width="1"/>
<rect x="968.55" y="368.5" width="3.6" height="69.50" fill="#3a1214" stroke="#c44444" stroke-width="1"/>
<rect x="974.30" y="367.2" width="3.6" height="70.80" fill="#3a1214" stroke="#c44444" stroke-width="1"/>
<rect x="980.05" y="363.5" width="3.6" height="74.50" fill="#3a1214" stroke="#c44444" stroke-width="1"/>
<rect x="985.29" y="368.5" width="4.6" height="70.00" fill="#60e4ec"/>
<rect x="991.54" y="363.5" width="3.6" height="74.50" fill="#3a1214" stroke="#c44444" stroke-width="1"/>
<rect x="997.29" y="365.3" width="3.6" height="72.70" fill="#3a1214" stroke="#c44444" stroke-width="1"/>
<rect x="1003.03" y="356.7" width="3.6" height="81.30" fill="#3a1214" stroke="#c44444" stroke-width="1"/>
<rect x="1008.28" y="356.2" width="4.6" height="82.30" fill="#60e4ec"/>
<rect x="1014.53" y="367.2" width="3.6" height="70.80" fill="#3a1214" stroke="#c44444" stroke-width="1"/>
<rect x="1019.77" y="360.2" width="4.6" height="78.30" fill="#60e4ec"/>
<rect x="1026.02" y="373.2" width="3.6" height="64.80" fill="#3a1214" stroke="#c44444" stroke-width="1"/>
<rect x="1031.77" y="374.5" width="3.6" height="63.50" fill="#3a1214" stroke="#c44444" stroke-width="1"/>
<rect x="1037.01" y="374.6" width="4.6" height="63.90" fill="#60e4ec"/>
<rect x="1042.76" y="386.9" width="4.6" height="51.60" fill="#60e4ec"/>
<rect x="1049.01" y="387.9" width="3.6" height="50.10" fill="#3a1214" stroke="#c44444" stroke-width="1"/>
<rect x="1054.25" y="396.0" width="4.6" height="42.50" fill="#60e4ec"/>
<rect x="1060.50" y="394.75" width="3.6" height="43.25" fill="#3a1214" stroke="#c44444" stroke-width="1"/>
<rect x="1066.25" y="389.2" width="3.6" height="48.80" fill="#3a1214" stroke="#c44444" stroke-width="1"/>
<rect x="1071.49" y="376.4" width="4.6" height="62.10" fill="#60e4ec"/>
<rect x="1077.24" y="382.3" width="4.6" height="56.20" fill="#60e4ec"/>
<rect x="1083.49" y="361.65" width="3.6" height="76.35" fill="#3a1214" stroke="#c44444" stroke-width="1"/>
<rect x="1088.73" y="358.0" width="4.6" height="80.50" fill="#60e4ec"/>
<rect x="1094.48" y="363.0" width="4.6" height="75.50" fill="#60e4ec"/>
<rect x="1100.73" y="369.0" width="3.6" height="69.00" fill="#3a1214" stroke="#c44444" stroke-width="1"/>
<rect x="1105.97" y="374.0" width="4.6" height="64.50" fill="#60e4ec"/>
<rect x="1112.22" y="356.1" width="3.6" height="81.90" fill="#3a1214" stroke="#c44444" stroke-width="1"/>
<polyline points="5.00,415.00 60.00,413.00 100.00,410.00 150.00,404.00 200.00,403.00 250.00,405.00 290.00,409.00 330.00,413.00 360.00,416.00 400.00,417.50 430.00,415.00 460.00,416.00 600.00,416.00 614.70,410.00 673.50,409.30 717.60,406.80 760.00,406.80 800.00,403.00 850.00,395.00 880.00,388.00 890.00,387.00 914.00,375.00 936.00,371.60 963.60,371.00 1007.70,367.60 1018.70,365.70 1037.00,366.70 1048.40,370.30 1066.80,376.40 1079.70,377.70 1090.70,373.00 1114.60,370.30" fill="none" stroke="#a030c0" stroke-width="1" stroke-linejoin="round" />
<polyline points="5.00,415.25 11.90,416.25 20.00,415.60 37.50,413.00 45.00,413.75 52.50,415.60 60.00,414.40 67.50,409.40 75.00,408.00 85.00,409.40 91.25,407.00 97.50,408.50 103.75,408.00 110.00,404.40 117.50,403.00 125.00,400.00 131.25,398.00 137.50,400.00 145.00,397.00 158.75,395.00 171.00,401.00 185.00,402.00 195.00,406.00 200.00,402.00 232.00,403.00 250.00,406.00 265.00,410.00 280.00,413.00 288.00,416.90 295.00,415.00 300.00,411.00 320.00,411.00 340.00,420.00 350.00,423.00 365.00,422.00 380.00,420.00 400.00,416.00 430.00,414.00 445.00,418.00 460.00,418.00 465.00,415.00 480.00,414.00 500.00,417.50 520.00,417.00 530.00,415.00 545.00,412.00 555.00,414.00 570.00,417.00 585.00,416.00 595.00,411.00 600.00,407.40 607.40,403.40 622.00,406.30 641.00,406.80 648.50,409.70 658.80,404.00 673.50,407.00 695.60,408.50 703.00,405.60 711.80,398.00 717.60,396.80 729.40,404.00 747.00,405.90 758.80,407.00 763.00,409.00 776.00,408.00 790.00,403.00 803.00,397.40 815.00,390.50 825.00,387.00 840.00,392.00 850.00,388.00 860.00,388.50 870.00,382.50 880.00,380.00 892.50,372.00 900.00,357.00 911.00,351.50 920.00,360.75 935.00,367.00 943.30,367.60 950.00,367.00 953.40,362.00 963.60,377.70 971.00,373.00 982.00,365.70 989.30,367.20 1007.70,359.30 1015.00,364.00 1022.40,362.00 1029.80,370.30 1040.80,375.00 1048.40,383.20 1062.20,393.30 1069.50,388.70 1078.70,377.70 1085.20,372.20 1090.70,364.80 1101.70,368.50 1109.00,370.30 1114.60,362.00" fill="none" stroke="#e8a048" stroke-width="1" stroke-linejoin="round" />
<polyline points="4.70,523.20 14.00,530.20 22.30,510.30 30.50,512.60 38.70,519.70 45.70,515.00 52.70,535.00 58.60,535.60 68.00,510.30 79.70,543.00 89.00,533.70 98.40,520.80 110.00,508.00 119.50,516.20 125.40,508.00 133.60,509.10 150.00,505.60 159.40,497.40 168.70,510.30 178.00,515.00 185.00,523.20 194.50,531.40 203.90,524.40 215.60,533.70 229.70,527.90 241.40,530.20 253.00,529.00 260.00,538.40 267.00,546.00" fill="none" stroke="#a09a40" stroke-width="1.1" stroke-linejoin="round" />
<polyline points="618.00,546.00 621.00,543.00 637.00,533.00 647.60,538.40 660.40,522.40 669.00,519.80 677.00,529.00 684.80,527.70 690.00,533.00 700.80,529.00 711.40,512.60 722.00,516.30 728.70,523.70 740.60,511.00 752.60,541.00 761.90,538.40 772.50,537.00 783.00,544.00 792.40,529.00 797.70,531.70 815.00,506.50 825.60,505.70 838.90,518.40 849.50,507.80 865.40,511.80 872.00,489.20 878.70,492.00 883.00,490.00 902.80,468.00 913.80,469.00 919.20,472.40 931.30,474.00 946.60,469.00 964.00,469.60 979.40,468.50 994.70,467.00 1001.00,468.00 1016.30,472.50 1031.60,466.00 1039.20,469.00 1050.20,467.50 1056.70,473.00 1079.70,470.50 1114.70,462.50" fill="none" stroke="#a09a40" stroke-width="1.1" stroke-linejoin="round" />
<polyline points="4.70,536.00 21.00,531.40 38.70,538.40 54.00,543.00 68.00,509.00 80.90,540.80 87.90,527.90 96.00,516.00 103.00,515.00 112.50,498.60 120.70,510.30 125.40,501.00 133.60,498.60 150.00,491.60 159.40,479.80 164.00,486.90 173.40,497.40 180.50,498.60 192.20,517.30 199.20,522.00 208.60,527.90 218.00,532.60 229.70,519.70 241.40,523.20 255.50,517.30 260.00,522.00 271.90,538.40 276.50,546.00" fill="none" stroke="#348c8c" stroke-width="1.1" stroke-linejoin="round" />
<polyline points="455.00,546.00 465.00,537.00 475.00,546.00" fill="none" stroke="#348c8c" stroke-width="1.1" stroke-linejoin="round" />
<polyline points="560.00,546.00 573.00,528.50 586.50,526.40 602.50,486.00 610.50,492.40 619.80,494.00 625.00,503.80 637.00,486.60 647.60,494.50 660.40,478.00 669.00,481.25 671.50,487.40 677.00,485.20 692.80,498.50 698.00,498.50 711.40,482.60 727.30,494.50 740.60,488.70 752.60,522.40 761.90,519.80 772.50,525.00 783.00,527.70 792.40,514.50 800.40,517.00 815.00,494.00 825.60,495.90 838.90,509.00 849.50,498.50 857.50,501.00 865.40,499.80 872.00,482.60 878.70,485.20 883.00,480.00 899.50,463.60 912.70,461.40 929.00,468.00 946.60,463.00 964.00,466.50 979.40,464.00 998.00,461.40 1001.00,463.50 1016.30,468.00 1031.60,461.50 1039.20,464.50 1050.20,463.00 1056.70,468.50 1079.70,466.00 1114.70,458.50" fill="none" stroke="#348c8c" stroke-width="1.1" stroke-linejoin="round" />
<polyline points="4.70,538.40 21.00,523.20 38.70,529.00 44.50,522.00 54.00,538.40 68.00,511.50 79.70,538.40 91.40,523.20 103.00,513.80 112.50,503.30 120.70,512.60 126.60,503.30 150.00,495.00 159.40,484.50 164.00,492.70 173.40,502.00 192.20,520.80 218.00,533.70 229.70,522.00 241.40,525.50 255.50,519.70 271.90,538.40 274.00,546.00" fill="none" stroke="#224a84" stroke-width="2.6" stroke-linejoin="round" />
<polyline points="589.00,546.00 602.50,517.00 613.00,522.40 618.40,519.00 626.40,523.70 637.00,510.50 647.60,515.80 662.30,499.80 674.20,506.50 684.80,509.00 692.80,514.50 700.80,514.50 711.40,497.20 727.30,509.00 740.60,499.80 752.60,531.70 761.90,529.60 772.50,531.20 783.00,537.00 793.70,523.70 815.00,501.00 838.90,511.80 849.50,502.00 865.40,507.80 872.00,484.00 878.70,488.00 881.00,487.00" fill="none" stroke="#224a84" stroke-width="2.6" stroke-linejoin="round" />
<polyline points="883.10,485.50 899.50,466.30 902.80,464.70 912.70,465.20 917.00,467.40 929.00,470.70 935.60,468.50 946.60,465.20 955.30,466.90 964.00,469.00 979.40,466.30 994.70,464.70 1001.00,465.80 1016.30,470.20 1031.60,463.60 1039.20,466.90 1050.20,465.20 1056.70,470.70 1079.70,468.00 1114.70,460.30" fill="none" stroke="#c8302c" stroke-width="3.2" stroke-linejoin="round" />
<polyline points="872.20,486.00 884.00,484.40 896.30,472.40" fill="none" stroke="#e8c0dc" stroke-width="2.2" stroke-linejoin="round" />
<line x1="5" y1="524" x2="1113" y2="524" stroke="#b4b4b4" stroke-width="1" stroke-dasharray="1.4,1.5"/>
<rect x="881.2" y="442" width="246.8" height="95.5" fill="none" stroke="#dc3030" stroke-width="3.8"/>
<text x="15.5" y="8" fill="#c8c8c8" font-size="10.8" text-anchor="start" font-weight="normal" >公告日: -</text>
<text x="66" y="8" fill="#c8c8c8" font-size="10.8" text-anchor="start" font-weight="normal" textLength="43.7" lengthAdjust="spacingAndGlyphs">营收: -%</text>
<text x="120.3" y="8" fill="#c8c8c8" font-size="10.8" text-anchor="start" font-weight="normal" textLength="43.6" lengthAdjust="spacingAndGlyphs">扣非: -%</text>
<text x="15.5" y="22" fill="#c8c8c8" font-size="10.8" text-anchor="start" font-weight="normal" >公告日: -</text>
<text x="66" y="22" fill="#c8c8c8" font-size="10.8" text-anchor="start" font-weight="normal" textLength="43.7" lengthAdjust="spacingAndGlyphs">营收: -%</text>
<text x="120.3" y="22" fill="#c8c8c8" font-size="10.8" text-anchor="start" font-weight="normal" textLength="43.6" lengthAdjust="spacingAndGlyphs">扣非: -%</text>
<text x="228" y="179" fill="#e06a6a" font-size="10.5" text-anchor="start" font-weight="normal" >13.4</text>
<text x="296" y="305" fill="#c0c0c0" font-size="11" text-anchor="start" font-weight="normal" >-</text>
<text x="300" y="305" fill="#40a040" font-size="11" text-anchor="start" font-weight="normal" >18.3</text>
<polyline points="312,301.5 309,304.5 312,307.5" stroke="#e0e0e0" stroke-width="1" fill="none"/><line x1="309" y1="304.5" x2="321" y2="304.5" stroke="#e0e0e0" stroke-width="1"/>
<text x="322" y="307" fill="#e0e0e0" font-size="11" text-anchor="start" font-weight="normal" >453.17</text>
<text x="600" y="233.5" fill="#e0e0e0" font-size="11" text-anchor="start" font-weight="normal" >534.76 - 535.77</text>
<text x="595.6" y="247" fill="#e0e0e0" font-size="11" text-anchor="start" font-weight="normal" >520.34 - 521.25</text>
<text x="1042" y="25.5" fill="#e8e8e8" font-size="11" text-anchor="start" font-weight="normal" >810.49</text>
<polyline points="1077,20.5 1095,16.5" stroke="#e8e8e8" stroke-width="1" fill="none"/>
<polyline points="1090,14.5 1095.5,16.5 1091,19.5" stroke="#e8e8e8" stroke-width="1" fill="none"/>
<clipPath id="cp"><rect x="0" y="0" width="1135" height="544"/></clipPath>
<g clip-path="url(#cp)">
<text x="1066" y="71.5" fill="#e0e0e0" font-size="11" text-anchor="start" font-weight="normal" >742.94 - 745.83</text>
<text x="1112" y="53.5" fill="#e0d050" font-size="11" text-anchor="start" font-weight="normal" >767.9</text>
</g>
<circle cx="9.2" cy="327.6" r="5.4" fill="#787878"/>
<polyline points="6.7,326.3 9.2,328.8 11.7,326.3" stroke="#3a3a3a" stroke-width="1.3" fill="none"/>
<text x="18.5" y="331.5" fill="#d0d0d0" font-size="11" text-anchor="start" font-weight="normal" >VOL_金(3,21)&#160; VVOL: 318560337920.00</text>
<text x="220.6" y="331.5" fill="#c4bc5c" font-size="11" text-anchor="start" font-weight="normal" textLength="142.6" lengthAdjust="spacingAndGlyphs">VOLUME: 318560337920.00</text>
<text x="369.8" y="331.5" fill="#c4bc5c" font-size="11" text-anchor="start" font-weight="normal" textLength="141.8" lengthAdjust="spacingAndGlyphs">MAVOL1: 291010904064.00</text>
<text x="518.2" y="331.5" fill="#9c3cbc" font-size="11" text-anchor="start" font-weight="normal" textLength="141.6" lengthAdjust="spacingAndGlyphs">MAVOL2: 258156822528.00</text>
<circle cx="9.2" cy="447.6" r="5.4" fill="#787878"/>
<polyline points="6.7,446.3 9.2,448.8 11.7,446.3" stroke="#3a3a3a" stroke-width="1.3" fill="none"/>
<text x="18.75" y="450.9" fill="#d0d0d0" font-size="11" text-anchor="start" font-weight="normal" textLength="77" lengthAdjust="spacingAndGlyphs">RSR行业(85,75)</text>
<text x="102" y="450.9" fill="#2e7a7a" font-size="11" text-anchor="start" font-weight="normal" textLength="65.6" lengthAdjust="spacingAndGlyphs">SSV55: 95.70</text>
<text x="172.6" y="450.9" fill="#8a8a34" font-size="11" text-anchor="start" font-weight="normal" >SSV144: 95.40</text>
<text x="249.7" y="450.9" fill="#2a4a80" font-size="11" text-anchor="start" font-weight="normal" >RSR: 95.55</text>
<text x="309.7" y="450.9" fill="#c890c0" font-size="11" text-anchor="start" font-weight="normal" >: 95.55</text>
<text x="350" y="450.9" fill="#a82828" font-size="11" text-anchor="start" font-weight="normal" >: 95.55</text>
<text x="388.5" y="450.9" fill="#909090" font-size="11" text-anchor="start" font-weight="normal" >MID: 50.00</text>
<text x="927" y="506.5" fill="#e03434" font-size="27" text-anchor="start" font-weight="bold" textLength="50" lengthAdjust="spacingAndGlyphs" stroke="#e03434" stroke-width="0.5">RSR</text>
<text x="979" y="506.5" fill="#e03434" font-size="26.5" text-anchor="start" font-weight="bold" textLength="107" lengthAdjust="spacingAndGlyphs" stroke="#e03434" stroke-width="0.5">持续高红</text>
<text x="1176" y="41.5" fill="#c84444" font-size="11" text-anchor="end" font-weight="normal" >777.4</text>
<text x="1176" y="92" fill="#c84444" font-size="11" text-anchor="end" font-weight="normal" >699.6</text>
<text x="1176" y="145" fill="#c84444" font-size="11" text-anchor="end" font-weight="normal" >629.7</text>
<text x="1176" y="197.5" fill="#c84444" font-size="11" text-anchor="end" font-weight="normal" >566.7</text>
<text x="1176" y="248.75" fill="#c84444" font-size="11" text-anchor="end" font-weight="normal" >510.0</text>
<text x="1176" y="301" fill="#c84444" font-size="11" text-anchor="end" font-weight="normal" >459.0</text>
<text x="1176" y="338" fill="#c84444" font-size="11" text-anchor="end" font-weight="normal" >400000</text>
<text x="1176" y="363.5" fill="#c84444" font-size="11" text-anchor="end" font-weight="normal" >300000</text>
<text x="1176" y="389.75" fill="#c84444" font-size="11" text-anchor="end" font-weight="normal" >200000</text>
<text x="1176" y="415" fill="#c84444" font-size="11" text-anchor="end" font-weight="normal" >100000</text>
<text x="1176" y="485.75" fill="#c84444" font-size="11" text-anchor="end" font-weight="normal" >80.00</text>
<text x="1176" y="513.25" fill="#c84444" font-size="11" text-anchor="end" font-weight="normal" >60.00</text>
<text x="1176" y="541.5" fill="#c84444" font-size="11" text-anchor="end" font-weight="normal" >40.00</text>
<text x="1138.5" y="435" fill="#c84444" font-size="11" text-anchor="start" font-weight="normal" textLength="34" lengthAdjust="spacingAndGlyphs">X100万</text>
<text x="1190.5" y="15.0" fill="#e2e2e2" font-size="12.5" text-anchor="start" font-weight="normal" >B 股成交</text>
<text x="1188" y="32.0" fill="#e2e2e2" font-size="12.5" text-anchor="start" font-weight="normal" >国债成交</text>
<text x="1188" y="49.0" fill="#e2e2e2" font-size="12.5" text-anchor="start" font-weight="normal" >基金成交</text>
<text x="1188" y="69.0" fill="#e2e2e2" font-size="12.5" text-anchor="start" font-weight="normal" >今日开盘</text>
<text x="1188" y="86.0" fill="#e2e2e2" font-size="12.5" text-anchor="start" font-weight="normal" >昨日收盘</text>
<text x="1188" y="103.5" fill="#e2e2e2" font-size="12.5" text-anchor="start" font-weight="normal" >平均涨幅</text>
<text x="1188" y="120.0" fill="#e2e2e2" font-size="12.5" text-anchor="start" font-weight="normal" >指数换手</text>
<text x="1188" y="137.0" fill="#e2e2e2" font-size="12.5" text-anchor="start" font-weight="normal" >指数振幅</text>
<text x="1188" y="155.5" fill="#e2e2e2" font-size="12.5" text-anchor="start" font-weight="normal" >总成交额</text>
<text x="1188" y="172.5" fill="#e2e2e2" font-size="12.5" text-anchor="start" font-weight="normal" >总成交量</text>
<text x="1188" y="189.25" fill="#e2e2e2" font-size="12.5" text-anchor="start" font-weight="normal" >最高指数</text>
<text x="1188" y="206.75" fill="#e2e2e2" font-size="12.5" text-anchor="start" font-weight="normal" >最低指数</text>
<text x="1188" y="223.5" fill="#e2e2e2" font-size="12.5" text-anchor="start" font-weight="normal" >指数量比</text>
<text x="1188" y="241.75" fill="#e2e2e2" font-size="12.5" text-anchor="start" font-weight="normal" >板指类型</text>
<text x="1188" y="260.5" fill="#e2e2e2" font-size="12.5" text-anchor="start" font-weight="normal" >涨家.涨停</text>
<text x="1276" y="260.5" fill="#b83838" font-size="12.5" text-anchor="start" font-weight="normal" >3</text>
<line x1="1181" y1="54" x2="1280" y2="54" stroke="#2a2a2e" stroke-width="1"/>
<line x1="1181" y1="229" x2="1280" y2="229" stroke="#2a2a2e" stroke-width="1"/>
<line x1="1181" y1="247.5" x2="1280" y2="247.5" stroke="#2a2a2e" stroke-width="1"/>
<line x1="1181" y1="268" x2="1280" y2="268" stroke="#2a2a2e" stroke-width="1"/>
<text x="1188" y="280.55" fill="#e2e2e2" font-size="12.5" text-anchor="start" font-weight="normal" >14:55</text>
<text x="1188" y="296.8" fill="#e2e2e2" font-size="12.5" text-anchor="start" font-weight="normal" >14:55</text>
<text x="1188" y="313.05" fill="#e2e2e2" font-size="12.5" text-anchor="start" font-weight="normal" >14:56</text>
<text x="1188" y="329.3" fill="#e2e2e2" font-size="12.5" text-anchor="start" font-weight="normal" >14:56</text>
<text x="1188" y="345.55" fill="#e2e2e2" font-size="12.5" text-anchor="start" font-weight="normal" >14:56</text>
<text x="1188" y="361.8" fill="#e2e2e2" font-size="12.5" text-anchor="start" font-weight="normal" >14:56</text>
<text x="1188" y="378.05" fill="#e2e2e2" font-size="12.5" text-anchor="start" font-weight="normal" >14:56</text>
<text x="1188" y="394.3" fill="#e2e2e2" font-size="12.5" text-anchor="start" font-weight="normal" >14:56</text>
<text x="1188" y="410.55" fill="#e2e2e2" font-size="12.5" text-anchor="start" font-weight="normal" >14:56</text>
<text x="1188" y="426.8" fill="#e2e2e2" font-size="12.5" text-anchor="start" font-weight="normal" >14:56</text>
<text x="1188" y="443.05" fill="#e2e2e2" font-size="12.5" text-anchor="start" font-weight="normal" >14:56</text>
<text x="1188" y="459.3" fill="#e2e2e2" font-size="12.5" text-anchor="start" font-weight="normal" >14:56</text>
<text x="1188" y="475.55" fill="#e2e2e2" font-size="12.5" text-anchor="start" font-weight="normal" >14:56</text>
<text x="1188" y="491.8" fill="#e2e2e2" font-size="12.5" text-anchor="start" font-weight="normal" >14:56</text>
<text x="1188" y="508.05" fill="#e2e2e2" font-size="12.5" text-anchor="start" font-weight="normal" >14:56</text>
<text x="1188" y="524.3" fill="#e2e2e2" font-size="12.5" text-anchor="start" font-weight="normal" >14:56</text>
<text x="1188" y="540.55" fill="#e2e2e2" font-size="12.5" text-anchor="start" font-weight="normal" >14:56</text>
</svg>
</body></html>
